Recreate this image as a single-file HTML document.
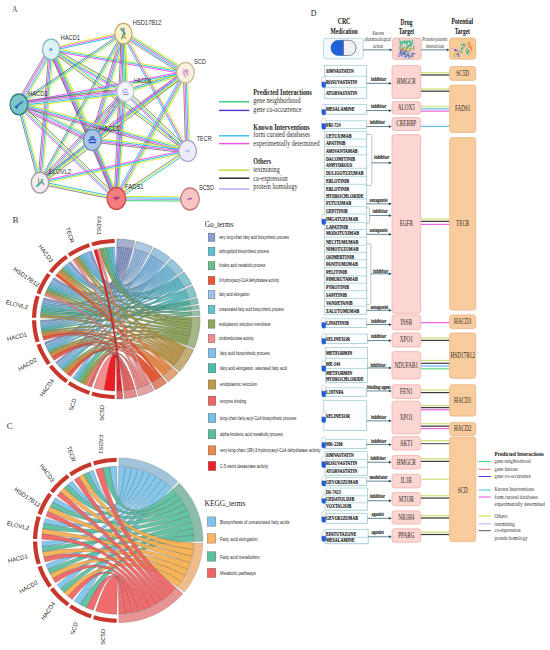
<!DOCTYPE html>
<html><head><meta charset="utf-8"><style>
html,body{margin:0;padding:0;background:#fff;width:550px;height:650px;overflow:hidden;}
svg{display:block;}
</style></head><body>
<svg width="550" height="650" viewBox="0 0 550 650">
<defs><filter id="bl" x="-20%" y="-20%" width="140%" height="140%"><feGaussianBlur stdDeviation="0.45"/></filter></defs>
<rect width="550" height="650" fill="#fff"/>
<text x="12" y="12.4" font-family='"Liberation Serif", serif' font-size="7.6" fill="#555">A</text>
<g stroke-linecap="butt" fill="none">
<line x1="50.90" y1="48.13" x2="123.10" y2="32.23" stroke="#d2ea2a" stroke-width="0.95"/>
<line x1="51.20" y1="49.50" x2="123.40" y2="33.60" stroke="#f04cf0" stroke-width="0.95"/>
<line x1="51.50" y1="50.87" x2="123.70" y2="34.97" stroke="#22c2f0" stroke-width="0.95"/>
<line x1="51.44" y1="48.12" x2="185.74" y2="71.32" stroke="#d2ea2a" stroke-width="0.95"/>
<line x1="51.20" y1="49.50" x2="185.50" y2="72.70" stroke="#22c2f0" stroke-width="0.95"/>
<line x1="50.96" y1="50.88" x2="185.26" y2="74.08" stroke="#f04cf0" stroke-width="0.95"/>
<line x1="52.23" y1="47.67" x2="126.53" y2="89.67" stroke="#4e4e4e" stroke-width="0.65"/>
<line x1="51.54" y1="48.89" x2="125.84" y2="90.89" stroke="#d2ea2a" stroke-width="0.95"/>
<line x1="50.86" y1="50.11" x2="125.16" y2="92.11" stroke="#22c2f0" stroke-width="0.95"/>
<line x1="50.17" y1="51.33" x2="124.47" y2="93.33" stroke="#f04cf0" stroke-width="0.95"/>
<line x1="53.61" y1="50.92" x2="21.31" y2="105.82" stroke="#d2ea2a" stroke-width="0.95"/>
<line x1="52.41" y1="50.21" x2="20.11" y2="105.11" stroke="#22c2f0" stroke-width="0.95"/>
<line x1="51.20" y1="49.50" x2="18.90" y2="104.40" stroke="#a9a6f0" stroke-width="0.95"/>
<line x1="49.99" y1="48.79" x2="17.69" y2="103.69" stroke="#f04cf0" stroke-width="0.95"/>
<line x1="48.79" y1="48.08" x2="16.49" y2="102.98" stroke="#4e4e4e" stroke-width="0.65"/>
<line x1="53.75" y1="48.34" x2="94.95" y2="138.84" stroke="#d2ea2a" stroke-width="0.95"/>
<line x1="52.47" y1="48.92" x2="93.67" y2="139.42" stroke="#22c2f0" stroke-width="0.95"/>
<line x1="51.20" y1="49.50" x2="92.40" y2="140.00" stroke="#a9a6f0" stroke-width="0.95"/>
<line x1="49.93" y1="50.08" x2="91.13" y2="140.58" stroke="#f04cf0" stroke-width="0.95"/>
<line x1="48.65" y1="50.66" x2="89.85" y2="141.16" stroke="#4e4e4e" stroke-width="0.65"/>
<line x1="52.04" y1="48.38" x2="188.44" y2="149.88" stroke="#22c2f0" stroke-width="0.95"/>
<line x1="51.20" y1="49.50" x2="187.60" y2="151.00" stroke="#d2ea2a" stroke-width="0.95"/>
<line x1="50.36" y1="50.62" x2="186.76" y2="152.12" stroke="#4e4e4e" stroke-width="0.65"/>
<line x1="53.29" y1="49.68" x2="42.09" y2="182.88" stroke="#d2ea2a" stroke-width="0.95"/>
<line x1="51.90" y1="49.56" x2="40.70" y2="182.76" stroke="#22c2f0" stroke-width="0.95"/>
<line x1="50.50" y1="49.44" x2="39.30" y2="182.64" stroke="#f04cf0" stroke-width="0.95"/>
<line x1="49.11" y1="49.32" x2="37.91" y2="182.52" stroke="#4e4e4e" stroke-width="0.65"/>
<line x1="53.12" y1="48.66" x2="118.32" y2="197.66" stroke="#d2ea2a" stroke-width="0.95"/>
<line x1="51.84" y1="49.22" x2="117.04" y2="198.22" stroke="#22c2f0" stroke-width="0.95"/>
<line x1="50.56" y1="49.78" x2="115.76" y2="198.78" stroke="#f04cf0" stroke-width="0.95"/>
<line x1="49.28" y1="50.34" x2="114.48" y2="199.34" stroke="#4e4e4e" stroke-width="0.65"/>
<line x1="124.89" y1="31.23" x2="186.99" y2="70.33" stroke="#d2ea2a" stroke-width="0.95"/>
<line x1="124.15" y1="32.42" x2="186.25" y2="71.52" stroke="#35cf6a" stroke-width="0.95"/>
<line x1="123.40" y1="33.60" x2="185.50" y2="72.70" stroke="#f04cf0" stroke-width="0.95"/>
<line x1="122.65" y1="34.78" x2="184.75" y2="73.88" stroke="#22c2f0" stroke-width="0.95"/>
<line x1="121.91" y1="35.97" x2="184.01" y2="75.07" stroke="#4e4e4e" stroke-width="0.65"/>
<line x1="125.50" y1="33.52" x2="127.60" y2="91.42" stroke="#d2ea2a" stroke-width="0.95"/>
<line x1="124.10" y1="33.57" x2="126.20" y2="91.47" stroke="#35cf6a" stroke-width="0.95"/>
<line x1="122.70" y1="33.63" x2="124.80" y2="91.53" stroke="#22c2f0" stroke-width="0.95"/>
<line x1="121.30" y1="33.68" x2="123.40" y2="91.58" stroke="#f04cf0" stroke-width="0.95"/>
<line x1="124.19" y1="34.76" x2="19.69" y2="105.56" stroke="#d2ea2a" stroke-width="0.95"/>
<line x1="123.40" y1="33.60" x2="18.90" y2="104.40" stroke="#22c2f0" stroke-width="0.95"/>
<line x1="122.61" y1="32.44" x2="18.11" y2="103.24" stroke="#4e4e4e" stroke-width="0.65"/>
<line x1="125.42" y1="34.19" x2="94.42" y2="140.59" stroke="#d2ea2a" stroke-width="0.95"/>
<line x1="124.07" y1="33.80" x2="93.07" y2="140.20" stroke="#22c2f0" stroke-width="0.95"/>
<line x1="122.73" y1="33.40" x2="91.73" y2="139.80" stroke="#f04cf0" stroke-width="0.95"/>
<line x1="121.38" y1="33.01" x2="90.38" y2="139.41" stroke="#4e4e4e" stroke-width="0.65"/>
<line x1="124.63" y1="32.93" x2="188.83" y2="150.33" stroke="#d2ea2a" stroke-width="0.95"/>
<line x1="123.40" y1="33.60" x2="187.60" y2="151.00" stroke="#f04cf0" stroke-width="0.95"/>
<line x1="122.17" y1="34.27" x2="186.37" y2="151.67" stroke="#22c2f0" stroke-width="0.95"/>
<line x1="124.62" y1="34.28" x2="41.22" y2="183.38" stroke="#d2ea2a" stroke-width="0.95"/>
<line x1="123.40" y1="33.60" x2="40.00" y2="182.70" stroke="#22c2f0" stroke-width="0.95"/>
<line x1="122.18" y1="32.92" x2="38.78" y2="182.02" stroke="#4e4e4e" stroke-width="0.65"/>
<line x1="125.50" y1="33.69" x2="118.50" y2="198.59" stroke="#d2ea2a" stroke-width="0.95"/>
<line x1="124.10" y1="33.63" x2="117.10" y2="198.53" stroke="#22c2f0" stroke-width="0.95"/>
<line x1="122.70" y1="33.57" x2="115.70" y2="198.47" stroke="#f04cf0" stroke-width="0.95"/>
<line x1="121.30" y1="33.51" x2="114.30" y2="198.41" stroke="#4e4e4e" stroke-width="0.65"/>
<line x1="185.92" y1="74.04" x2="125.92" y2="92.84" stroke="#d2ea2a" stroke-width="0.95"/>
<line x1="185.50" y1="72.70" x2="125.50" y2="91.50" stroke="#22c2f0" stroke-width="0.95"/>
<line x1="185.08" y1="71.36" x2="125.08" y2="90.16" stroke="#4e4e4e" stroke-width="0.65"/>
<line x1="185.76" y1="74.08" x2="19.16" y2="105.78" stroke="#d2ea2a" stroke-width="0.95"/>
<line x1="185.50" y1="72.70" x2="18.90" y2="104.40" stroke="#22c2f0" stroke-width="0.95"/>
<line x1="185.24" y1="71.32" x2="18.64" y2="103.02" stroke="#f04cf0" stroke-width="0.95"/>
<line x1="186.73" y1="74.40" x2="93.63" y2="141.70" stroke="#d2ea2a" stroke-width="0.95"/>
<line x1="185.91" y1="73.27" x2="92.81" y2="140.57" stroke="#22c2f0" stroke-width="0.95"/>
<line x1="185.09" y1="72.13" x2="91.99" y2="139.43" stroke="#f04cf0" stroke-width="0.95"/>
<line x1="184.27" y1="71.00" x2="91.17" y2="138.30" stroke="#4e4e4e" stroke-width="0.65"/>
<line x1="187.60" y1="72.64" x2="189.70" y2="150.94" stroke="#d2ea2a" stroke-width="0.95"/>
<line x1="186.20" y1="72.68" x2="188.30" y2="150.98" stroke="#22c2f0" stroke-width="0.95"/>
<line x1="184.80" y1="72.72" x2="186.90" y2="151.02" stroke="#f04cf0" stroke-width="0.95"/>
<line x1="183.40" y1="72.76" x2="185.50" y2="151.06" stroke="#4e4e4e" stroke-width="0.65"/>
<line x1="186.77" y1="74.38" x2="41.27" y2="184.38" stroke="#4e4e4e" stroke-width="0.65"/>
<line x1="185.92" y1="73.26" x2="40.42" y2="183.26" stroke="#d2ea2a" stroke-width="0.95"/>
<line x1="185.08" y1="72.14" x2="39.58" y2="182.14" stroke="#22c2f0" stroke-width="0.95"/>
<line x1="184.23" y1="71.02" x2="38.73" y2="181.02" stroke="#f04cf0" stroke-width="0.95"/>
<line x1="187.34" y1="73.71" x2="118.24" y2="199.51" stroke="#d2ea2a" stroke-width="0.95"/>
<line x1="186.11" y1="73.04" x2="117.01" y2="198.84" stroke="#35cf6a" stroke-width="0.95"/>
<line x1="184.89" y1="72.36" x2="115.79" y2="198.16" stroke="#f04cf0" stroke-width="0.95"/>
<line x1="183.66" y1="71.69" x2="114.56" y2="197.49" stroke="#22c2f0" stroke-width="0.95"/>
<line x1="125.84" y1="94.28" x2="19.24" y2="107.18" stroke="#d2ea2a" stroke-width="0.95"/>
<line x1="125.67" y1="92.89" x2="19.07" y2="105.79" stroke="#22c2f0" stroke-width="0.95"/>
<line x1="125.50" y1="91.50" x2="18.90" y2="104.40" stroke="#a9a6f0" stroke-width="0.95"/>
<line x1="125.33" y1="90.11" x2="18.73" y2="103.01" stroke="#f04cf0" stroke-width="0.95"/>
<line x1="125.16" y1="88.72" x2="18.56" y2="101.62" stroke="#4e4e4e" stroke-width="0.65"/>
<line x1="127.81" y1="93.08" x2="94.71" y2="141.58" stroke="#d2ea2a" stroke-width="0.95"/>
<line x1="126.66" y1="92.29" x2="93.56" y2="140.79" stroke="#22c2f0" stroke-width="0.95"/>
<line x1="125.50" y1="91.50" x2="92.40" y2="140.00" stroke="#5a3fd6" stroke-width="0.95"/>
<line x1="124.34" y1="90.71" x2="91.24" y2="139.21" stroke="#f04cf0" stroke-width="0.95"/>
<line x1="123.19" y1="89.92" x2="90.09" y2="138.42" stroke="#4e4e4e" stroke-width="0.65"/>
<line x1="126.95" y1="89.98" x2="189.05" y2="149.48" stroke="#4e4e4e" stroke-width="0.65"/>
<line x1="125.98" y1="90.99" x2="188.08" y2="150.49" stroke="#d2ea2a" stroke-width="0.95"/>
<line x1="125.02" y1="92.01" x2="187.12" y2="151.51" stroke="#22c2f0" stroke-width="0.95"/>
<line x1="124.05" y1="93.02" x2="186.15" y2="152.52" stroke="#f04cf0" stroke-width="0.95"/>
<line x1="127.03" y1="92.94" x2="41.53" y2="184.14" stroke="#d2ea2a" stroke-width="0.95"/>
<line x1="126.01" y1="91.98" x2="40.51" y2="183.18" stroke="#22c2f0" stroke-width="0.95"/>
<line x1="124.99" y1="91.02" x2="39.49" y2="182.22" stroke="#f04cf0" stroke-width="0.95"/>
<line x1="123.97" y1="90.06" x2="38.47" y2="181.26" stroke="#4e4e4e" stroke-width="0.65"/>
<line x1="126.89" y1="91.62" x2="117.79" y2="198.62" stroke="#d2ea2a" stroke-width="0.95"/>
<line x1="125.50" y1="91.50" x2="116.40" y2="198.50" stroke="#22c2f0" stroke-width="0.95"/>
<line x1="124.11" y1="91.38" x2="115.01" y2="198.38" stroke="#f04cf0" stroke-width="0.95"/>
<line x1="20.12" y1="101.88" x2="93.62" y2="137.48" stroke="#d2ea2a" stroke-width="0.95"/>
<line x1="19.51" y1="103.14" x2="93.01" y2="138.74" stroke="#22c2f0" stroke-width="0.95"/>
<line x1="18.90" y1="104.40" x2="92.40" y2="140.00" stroke="#a9a6f0" stroke-width="0.95"/>
<line x1="18.29" y1="105.66" x2="91.79" y2="141.26" stroke="#f04cf0" stroke-width="0.95"/>
<line x1="17.68" y1="106.92" x2="91.18" y2="142.52" stroke="#4e4e4e" stroke-width="0.65"/>
<line x1="19.46" y1="102.38" x2="188.16" y2="148.98" stroke="#d2ea2a" stroke-width="0.95"/>
<line x1="19.09" y1="103.73" x2="187.79" y2="150.33" stroke="#22c2f0" stroke-width="0.95"/>
<line x1="18.71" y1="105.07" x2="187.41" y2="151.67" stroke="#f04cf0" stroke-width="0.95"/>
<line x1="18.34" y1="106.42" x2="187.04" y2="153.02" stroke="#4e4e4e" stroke-width="0.65"/>
<line x1="20.25" y1="104.04" x2="41.35" y2="182.34" stroke="#d2ea2a" stroke-width="0.95"/>
<line x1="18.90" y1="104.40" x2="40.00" y2="182.70" stroke="#22c2f0" stroke-width="0.95"/>
<line x1="17.55" y1="104.76" x2="38.65" y2="183.06" stroke="#4e4e4e" stroke-width="0.65"/>
<line x1="20.36" y1="102.89" x2="117.86" y2="196.99" stroke="#4e4e4e" stroke-width="0.65"/>
<line x1="19.39" y1="103.90" x2="116.89" y2="198.00" stroke="#d2ea2a" stroke-width="0.95"/>
<line x1="18.41" y1="104.90" x2="115.91" y2="199.00" stroke="#22c2f0" stroke-width="0.95"/>
<line x1="17.44" y1="105.91" x2="114.94" y2="200.01" stroke="#f04cf0" stroke-width="0.95"/>
<line x1="92.64" y1="137.91" x2="187.84" y2="148.91" stroke="#d2ea2a" stroke-width="0.95"/>
<line x1="92.48" y1="139.30" x2="187.68" y2="150.30" stroke="#22c2f0" stroke-width="0.95"/>
<line x1="92.32" y1="140.70" x2="187.52" y2="151.70" stroke="#f04cf0" stroke-width="0.95"/>
<line x1="92.16" y1="142.09" x2="187.36" y2="153.09" stroke="#4e4e4e" stroke-width="0.65"/>
<line x1="93.28" y1="141.09" x2="40.88" y2="183.79" stroke="#d2ea2a" stroke-width="0.95"/>
<line x1="92.40" y1="140.00" x2="40.00" y2="182.70" stroke="#22c2f0" stroke-width="0.95"/>
<line x1="91.52" y1="138.91" x2="39.12" y2="181.61" stroke="#4e4e4e" stroke-width="0.65"/>
<line x1="94.34" y1="139.20" x2="118.34" y2="197.70" stroke="#d2ea2a" stroke-width="0.95"/>
<line x1="93.05" y1="139.73" x2="117.05" y2="198.23" stroke="#22c2f0" stroke-width="0.95"/>
<line x1="91.75" y1="140.27" x2="115.75" y2="198.77" stroke="#f04cf0" stroke-width="0.95"/>
<line x1="90.46" y1="140.80" x2="114.46" y2="199.30" stroke="#4e4e4e" stroke-width="0.65"/>
<line x1="187.89" y1="152.37" x2="40.29" y2="184.07" stroke="#d2ea2a" stroke-width="0.95"/>
<line x1="187.60" y1="151.00" x2="40.00" y2="182.70" stroke="#22c2f0" stroke-width="0.95"/>
<line x1="187.31" y1="149.63" x2="39.71" y2="181.33" stroke="#f04cf0" stroke-width="0.95"/>
<line x1="188.38" y1="152.16" x2="117.18" y2="199.66" stroke="#22c2f0" stroke-width="0.95"/>
<line x1="187.60" y1="151.00" x2="116.40" y2="198.50" stroke="#d2ea2a" stroke-width="0.95"/>
<line x1="186.82" y1="149.84" x2="115.62" y2="197.34" stroke="#4e4e4e" stroke-width="0.65"/>
<line x1="40.28" y1="181.33" x2="116.68" y2="197.13" stroke="#22c2f0" stroke-width="0.95"/>
<line x1="40.00" y1="182.70" x2="116.40" y2="198.50" stroke="#d2ea2a" stroke-width="0.95"/>
<line x1="39.72" y1="184.07" x2="116.12" y2="199.87" stroke="#4e4e4e" stroke-width="0.65"/>
<line x1="116.41" y1="196.40" x2="190.01" y2="196.90" stroke="#d2ea2a" stroke-width="0.95"/>
<line x1="116.40" y1="197.80" x2="190.00" y2="198.30" stroke="#22c2f0" stroke-width="0.95"/>
<line x1="116.40" y1="199.20" x2="190.00" y2="199.70" stroke="#a9a6f0" stroke-width="0.95"/>
<line x1="116.39" y1="200.60" x2="189.99" y2="201.10" stroke="#35cf6a" stroke-width="0.95"/>
</g>
<g transform="translate(51.2,49.5)"><ellipse rx="8.74" ry="10.30" fill="#dcf3f5" stroke="#86b6bc" stroke-width="1.3"/><path d="M-1.5,-2 L2,0 L-1.5,2 Z" fill="#6f8fd0"/></g>
<g transform="translate(123.4,33.6)"><ellipse rx="8.64" ry="10.19" fill="#fbf2c8" stroke="#c8a870" stroke-width="1.3"/><path d="M-3,-5 C1,-4 -2,-1 2,0 C-2,1 1,3 -2,5" stroke="#3aa07a" stroke-width="1.6" fill="none"/><path d="M-1,1 C2,2 0,4 3,5" stroke="#e08a3a" stroke-width="1.4" fill="none"/><path d="M0,-6 C2,-4 -1,-3 1,-1" stroke="#4a70c8" stroke-width="1.1" fill="none"/></g>
<g transform="translate(185.5,72.7)"><ellipse rx="8.74" ry="10.30" fill="#f8f1de" stroke="#cbb99a" stroke-width="1.3"/><path d="M-2.5,-3 L2.5,-2 M-3,-0.5 L3,-1.5 M-2,2 L1,4 M0.5,0 L3,2.5 M-2,-1 L-1,3 M1,-3.5 L2,1" stroke="#d494cc" stroke-width="1.3" fill="none"/></g>
<g transform="translate(125.5,91.5)"><ellipse rx="8.36" ry="9.86" fill="#f3f6fa" stroke="#c4c9d6" stroke-width="1.3"/><path d="M-3,0 C-1,-3 1,-3 2,-1 M-3,2 C-1,0 1,0 3,2 M-2,3 L3,3" stroke="#6f7fd8" stroke-width="0.9" fill="none"/></g>
<g transform="translate(18.9,104.4)"><ellipse rx="8.84" ry="10.42" fill="#7cc6ca" stroke="#2e8282" stroke-width="1.3"/><path d="M-4,3 L4,-3 M-3,4 L-1,2 M1,-1 L3,-2" stroke="#2f66b8" stroke-width="1.6" fill="none"/></g>
<g transform="translate(92.4,140.0)"><ellipse rx="8.93" ry="10.53" fill="#a9c6e6" stroke="#6a8fb6" stroke-width="1.3"/><path d="M-2,-2 C-1,-3.5 1,-3.5 2,-2 M-4,0.5 C-1,-1.5 1,-1.5 4,0.5 M-3.5,2.5 L3.5,2.5" stroke="#2848c0" stroke-width="1.4" fill="none"/></g>
<g transform="translate(187.6,151.0)"><ellipse rx="8.93" ry="10.53" fill="#edecf9" stroke="#aaa2c9" stroke-width="1.3"/><path d="M-2,0 C-1,-1 1,-1 2,0 C1,1 -1,1 -2,0" stroke="#a8a0d0" stroke-width="0.8" fill="none"/></g>
<g transform="translate(40.0,182.7)"><ellipse rx="8.74" ry="10.30" fill="#f1eaee" stroke="#a89ea2" stroke-width="1.3"/><path d="M-3.5,4 L-1,1.5 L1,-0.5 L2.5,-3.5" stroke="#2cb88a" stroke-width="1.7" fill="none"/><path d="M-1.5,-4.5 L-1.5,0.5" stroke="#e07a50" stroke-width="1.1" fill="none"/><path d="M2,-1 L4,2" stroke="#5a60d0" stroke-width="1.1" fill="none"/></g>
<g transform="translate(116.4,198.5)"><ellipse rx="9.31" ry="10.98" fill="#f27e7e" stroke="#cf4a4a" stroke-width="1.3"/><path d="M-3,0 C-1,-2 1,1 3,-1 M-1,2 L1,-2" stroke="#a02a8a" stroke-width="1.3" fill="none"/></g>
<g transform="translate(190.0,199.0)"><ellipse rx="9.31" ry="10.98" fill="#f8c5c5" stroke="#c77a7a" stroke-width="1.3"/><path d="M-2,1 C-1,-1 1,-1 2,0" stroke="#9a40b0" stroke-width="1.3" fill="none"/></g>
<text transform="translate(60.50,39.80) scale(0.803,1)" font-family='"Liberation Sans", sans-serif' font-size="7.2" font-weight="normal" fill="#2a2a2a" text-anchor="start">HACD1</text>
<text transform="translate(132.70,24.60) scale(0.800,1)" font-family='"Liberation Sans", sans-serif' font-size="7.2" font-weight="normal" fill="#2a2a2a" text-anchor="start">HSD17B12</text>
<text transform="translate(194.00,64.10) scale(0.789,1)" font-family='"Liberation Sans", sans-serif' font-size="7.2" font-weight="normal" fill="#2a2a2a" text-anchor="start">SCD</text>
<text transform="translate(134.00,82.60) scale(0.697,1)" font-family='"Liberation Sans", sans-serif' font-size="7.2" font-weight="normal" fill="#2a2a2a" text-anchor="start">HACD4</text>
<text transform="translate(28.00,95.60) scale(0.803,1)" font-family='"Liberation Sans", sans-serif' font-size="7.2" font-weight="normal" fill="#2a2a2a" text-anchor="start">HACD3</text>
<text transform="translate(99.00,130.60) scale(0.901,1)" font-family='"Liberation Sans", sans-serif' font-size="7.2" font-weight="normal" fill="#2a2a2a" text-anchor="start">HACD2</text>
<text transform="translate(196.70,141.30) scale(0.770,1)" font-family='"Liberation Sans", sans-serif' font-size="7.2" font-weight="normal" fill="#2a2a2a" text-anchor="start">TECR</text>
<text transform="translate(49.00,173.60) scale(0.808,1)" font-family='"Liberation Sans", sans-serif' font-size="7.2" font-weight="normal" fill="#2a2a2a" text-anchor="start">ELOVL2</text>
<text transform="translate(125.00,188.60) scale(0.815,1)" font-family='"Liberation Sans", sans-serif' font-size="7.2" font-weight="normal" fill="#2a2a2a" text-anchor="start">FADS1</text>
<text transform="translate(199.00,189.60) scale(0.781,1)" font-family='"Liberation Sans", sans-serif' font-size="7.2" font-weight="normal" fill="#2a2a2a" text-anchor="start">SC5D</text>
<line x1="219" y1="101.8" x2="249.4" y2="101.8" stroke="#3ad07a" stroke-width="1.45"/>
<line x1="219" y1="110.4" x2="249.4" y2="110.4" stroke="#5a3ad8" stroke-width="1.45"/>
<line x1="219" y1="135.8" x2="249.4" y2="135.8" stroke="#3cc4e4" stroke-width="1.45"/>
<line x1="219" y1="143.6" x2="249.4" y2="143.6" stroke="#f050e8" stroke-width="1.45"/>
<line x1="219" y1="170.2" x2="249.4" y2="170.2" stroke="#c8dc30" stroke-width="1.45"/>
<line x1="219" y1="178.2" x2="249.4" y2="178.2" stroke="#222" stroke-width="1.45"/>
<line x1="219" y1="189.0" x2="249.4" y2="189.0" stroke="#b0aaf4" stroke-width="1.45"/>
<text transform="translate(253.30,95.00) scale(0.846,1)" font-family='"Liberation Serif", serif' font-size="7.3" font-weight="bold" fill="#1e1e1e" text-anchor="start">Predicted Interactions</text>
<text transform="translate(253.30,103.00) scale(0.842,1)" font-family='"Liberation Serif", serif' font-size="7.3" font-weight="normal" fill="#333" text-anchor="start">gene neighborhood</text>
<text transform="translate(253.30,111.70) scale(0.847,1)" font-family='"Liberation Serif", serif' font-size="7.3" font-weight="normal" fill="#333" text-anchor="start">gene co-occurrence</text>
<text transform="translate(253.30,129.50) scale(0.852,1)" font-family='"Liberation Serif", serif' font-size="7.3" font-weight="bold" fill="#1e1e1e" text-anchor="start">Known Interventions</text>
<text transform="translate(253.30,137.10) scale(0.843,1)" font-family='"Liberation Serif", serif' font-size="7.3" font-weight="normal" fill="#333" text-anchor="start">form curated databases</text>
<text transform="translate(253.30,145.50) scale(0.844,1)" font-family='"Liberation Serif", serif' font-size="7.3" font-weight="normal" fill="#333" text-anchor="start">experimentally determined</text>
<text transform="translate(253.30,163.70) scale(0.824,1)" font-family='"Liberation Serif", serif' font-size="7.3" font-weight="bold" fill="#1e1e1e" text-anchor="start">Others</text>
<text transform="translate(253.30,172.20) scale(0.835,1)" font-family='"Liberation Serif", serif' font-size="7.3" font-weight="normal" fill="#333" text-anchor="start">textmining</text>
<text transform="translate(253.30,180.60) scale(0.849,1)" font-family='"Liberation Serif", serif' font-size="7.3" font-weight="normal" fill="#333" text-anchor="start">co-expression</text>
<text transform="translate(253.30,189.20) scale(0.852,1)" font-family='"Liberation Serif", serif' font-size="7.3" font-weight="normal" fill="#333" text-anchor="start">protein homology</text>
<text x="12.6" y="222.8" font-family='"Liberation Serif", serif' font-size="8.8" fill="#333">B</text>
<path d="M89.00,251.75 L89.83,251.45 L90.67,251.16 L91.51,250.88 Q116.00,319.00 116.79,247.00 L116.79,247.00 L117.95,247.02 L119.11,247.06 Q116.00,319.00 89.00,251.75 Z" fill="#8d9ed3" fill-opacity="1.0" stroke="#3a3a3a" stroke-width="0.28" stroke-opacity="0.85"/>
<path d="M68.50,262.99 L69.20,262.46 L69.90,261.94 L70.61,261.42 Q116.00,319.00 119.11,247.06 L119.11,247.06 L120.27,247.11 L121.42,247.19 Q116.00,319.00 68.50,262.99 Z" fill="#8d9ed3" fill-opacity="1.0" stroke="#3a3a3a" stroke-width="0.28" stroke-opacity="0.85"/>
<path d="M52.81,279.47 L53.47,278.53 L54.15,277.60 Q116.00,319.00 121.42,247.19 L121.42,247.19 L122.58,247.27 L123.73,247.38 Q116.00,319.00 52.81,279.47 Z" fill="#8d9ed3" fill-opacity="1.0" stroke="#3a3a3a" stroke-width="0.28" stroke-opacity="0.85"/>
<path d="M43.19,299.60 L43.46,298.72 L43.74,297.83 Q116.00,319.00 123.73,247.38 L123.73,247.38 L124.89,247.50 L126.04,247.64 Q116.00,319.00 43.19,299.60 Z" fill="#8d9ed3" fill-opacity="1.0" stroke="#3a3a3a" stroke-width="0.28" stroke-opacity="0.85"/>
<path d="M40.46,321.98 L40.43,321.06 L40.41,320.13 Q116.00,319.00 126.04,247.64 L126.04,247.64 L127.18,247.79 L128.33,247.96 Q116.00,319.00 40.46,321.98 Z" fill="#8d9ed3" fill-opacity="1.0" stroke="#3a3a3a" stroke-width="0.28" stroke-opacity="0.85"/>
<path d="M45.20,344.24 L44.83,343.28 L44.48,342.32 Q116.00,319.00 128.33,247.96 L128.33,247.96 L129.47,248.15 L130.61,248.36 Q116.00,319.00 45.20,344.24 Z" fill="#8d9ed3" fill-opacity="1.0" stroke="#3a3a3a" stroke-width="0.28" stroke-opacity="0.85"/>
<path d="M56.85,363.84 L56.19,363.04 L55.54,362.23 Q116.00,319.00 130.61,248.36 L130.61,248.36 L131.75,248.58 L132.88,248.82 Q116.00,319.00 56.85,363.84 Z" fill="#8d9ed3" fill-opacity="1.0" stroke="#3a3a3a" stroke-width="0.28" stroke-opacity="0.85"/>
<path d="M86.52,252.70 L87.34,252.37 L88.17,252.06 L89.00,251.75 Q116.00,319.00 134.42,249.17 L134.42,249.17 L135.48,249.43 L136.53,249.71 Q116.00,319.00 86.52,252.70 Z" fill="#9cc4f0" fill-opacity="1.0" stroke="#3a3a3a" stroke-width="0.28" stroke-opacity="0.85"/>
<path d="M66.45,264.62 L67.13,264.07 L67.81,263.52 L68.50,262.99 Q116.00,319.00 136.53,249.71 L136.53,249.71 L137.58,250.00 L138.63,250.30 Q116.00,319.00 66.45,264.62 Z" fill="#9cc4f0" fill-opacity="1.0" stroke="#3a3a3a" stroke-width="0.28" stroke-opacity="0.85"/>
<path d="M51.54,281.38 L52.17,280.42 L52.81,279.47 Q116.00,319.00 138.63,250.30 L138.63,250.30 L139.67,250.62 L140.70,250.95 Q116.00,319.00 51.54,281.38 Z" fill="#9cc4f0" fill-opacity="1.0" stroke="#3a3a3a" stroke-width="0.28" stroke-opacity="0.85"/>
<path d="M42.70,301.39 L42.94,300.50 L43.19,299.60 Q116.00,319.00 140.70,250.95 L140.70,250.95 L141.73,251.30 L142.76,251.66 Q116.00,319.00 42.70,301.39 Z" fill="#9cc4f0" fill-opacity="1.0" stroke="#3a3a3a" stroke-width="0.28" stroke-opacity="0.85"/>
<path d="M40.57,323.83 L40.51,322.91 L40.46,321.98 Q116.00,319.00 142.76,251.66 L142.76,251.66 L143.78,252.04 L144.79,252.43 Q116.00,319.00 40.57,323.83 Z" fill="#9cc4f0" fill-opacity="1.0" stroke="#3a3a3a" stroke-width="0.28" stroke-opacity="0.85"/>
<path d="M45.97,346.13 L45.58,345.19 L45.20,344.24 Q116.00,319.00 144.79,252.43 L144.79,252.43 L145.80,252.83 L146.80,253.25 Q116.00,319.00 45.97,346.13 Z" fill="#9cc4f0" fill-opacity="1.0" stroke="#3a3a3a" stroke-width="0.28" stroke-opacity="0.85"/>
<path d="M58.21,365.42 L57.52,364.63 L56.85,363.84 Q116.00,319.00 146.80,253.25 L146.80,253.25 L147.80,253.68 L148.78,254.12 Q116.00,319.00 58.21,365.42 Z" fill="#9cc4f0" fill-opacity="1.0" stroke="#3a3a3a" stroke-width="0.28" stroke-opacity="0.85"/>
<path d="M111.76,247.11 L112.78,247.07 L113.79,247.03 L114.81,247.01 Q116.00,319.00 150.20,254.79 L150.20,254.79 L151.16,255.26 L152.12,255.75 Q116.00,319.00 111.76,247.11 Z" fill="#80c0ee" fill-opacity="1.0" stroke="#3a3a3a" stroke-width="0.28" stroke-opacity="0.85"/>
<path d="M84.08,253.73 L84.89,253.38 L85.70,253.03 L86.52,252.70 Q116.00,319.00 152.12,255.75 L152.12,255.75 L153.06,256.25 L154.00,256.76 Q116.00,319.00 84.08,253.73 Z" fill="#80c0ee" fill-opacity="1.0" stroke="#3a3a3a" stroke-width="0.28" stroke-opacity="0.85"/>
<path d="M50.33,283.33 L50.93,282.35 L51.54,281.38 Q116.00,319.00 154.00,256.76 L154.00,256.76 L154.93,257.28 L155.85,257.82 Q116.00,319.00 50.33,283.33 Z" fill="#80c0ee" fill-opacity="1.0" stroke="#3a3a3a" stroke-width="0.28" stroke-opacity="0.85"/>
<path d="M42.24,303.19 L42.46,302.29 L42.70,301.39 Q116.00,319.00 155.85,257.82 L155.85,257.82 L156.77,258.36 L157.67,258.93 Q116.00,319.00 42.24,303.19 Z" fill="#80c0ee" fill-opacity="1.0" stroke="#3a3a3a" stroke-width="0.28" stroke-opacity="0.85"/>
<path d="M40.73,325.67 L40.64,324.75 L40.57,323.83 Q116.00,319.00 157.67,258.93 L157.67,258.93 L158.57,259.50 L159.46,260.08 Q116.00,319.00 40.73,325.67 Z" fill="#80c0ee" fill-opacity="1.0" stroke="#3a3a3a" stroke-width="0.28" stroke-opacity="0.85"/>
<path d="M46.81,348.01 L46.38,347.07 L45.97,346.13 Q116.00,319.00 159.46,260.08 L159.46,260.08 L160.34,260.68 L161.21,261.29 Q116.00,319.00 46.81,348.01 Z" fill="#80c0ee" fill-opacity="1.0" stroke="#3a3a3a" stroke-width="0.28" stroke-opacity="0.85"/>
<path d="M59.61,366.95 L58.90,366.19 L58.21,365.42 Q116.00,319.00 161.21,261.29 L161.21,261.29 L162.07,261.91 L162.92,262.54 Q116.00,319.00 59.61,366.95 Z" fill="#80c0ee" fill-opacity="1.0" stroke="#3a3a3a" stroke-width="0.28" stroke-opacity="0.85"/>
<path d="M75.06,379.53 L74.21,379.00 L73.37,378.46 L72.53,377.91 Q116.00,319.00 162.92,262.54 L162.92,262.54 L163.76,263.19 L164.59,263.84 Q116.00,319.00 75.06,379.53 Z" fill="#80c0ee" fill-opacity="1.0" stroke="#3a3a3a" stroke-width="0.28" stroke-opacity="0.85"/>
<path d="M81.68,254.85 L82.47,254.47 L83.27,254.10 L84.08,253.73 Q116.00,319.00 165.80,264.83 L165.80,264.83 L166.61,265.52 L167.42,266.22 Q116.00,319.00 81.68,254.85 Z" fill="#74c2e8" fill-opacity="1.0" stroke="#3a3a3a" stroke-width="0.28" stroke-opacity="0.85"/>
<path d="M64.47,266.32 L65.12,265.75 L65.78,265.18 L66.45,264.62 Q116.00,319.00 167.42,266.22 L167.42,266.22 L168.22,266.93 L169.00,267.66 Q116.00,319.00 64.47,266.32 Z" fill="#74c2e8" fill-opacity="1.0" stroke="#3a3a3a" stroke-width="0.28" stroke-opacity="0.85"/>
<path d="M49.19,285.31 L49.75,284.31 L50.33,283.33 Q116.00,319.00 169.00,267.66 L169.00,267.66 L169.78,268.39 L170.54,269.14 Q116.00,319.00 49.19,285.31 Z" fill="#74c2e8" fill-opacity="1.0" stroke="#3a3a3a" stroke-width="0.28" stroke-opacity="0.85"/>
<path d="M41.84,305.00 L42.04,304.10 L42.24,303.19 Q116.00,319.00 170.54,269.14 L170.54,269.14 L171.29,269.90 L172.03,270.66 Q116.00,319.00 41.84,305.00 Z" fill="#74c2e8" fill-opacity="1.0" stroke="#3a3a3a" stroke-width="0.28" stroke-opacity="0.85"/>
<path d="M40.93,327.51 L40.82,326.59 L40.73,325.67 Q116.00,319.00 172.03,270.66 L172.03,270.66 L172.76,271.44 L173.47,272.23 Q116.00,319.00 40.93,327.51 Z" fill="#74c2e8" fill-opacity="1.0" stroke="#3a3a3a" stroke-width="0.28" stroke-opacity="0.85"/>
<path d="M47.70,349.86 L47.25,348.94 L46.81,348.01 Q116.00,319.00 173.47,272.23 L173.47,272.23 L174.18,273.02 L174.87,273.83 Q116.00,319.00 47.70,349.86 Z" fill="#74c2e8" fill-opacity="1.0" stroke="#3a3a3a" stroke-width="0.28" stroke-opacity="0.85"/>
<path d="M61.05,368.45 L60.32,367.71 L59.61,366.95 Q116.00,319.00 174.87,273.83 L174.87,273.83 L175.55,274.64 L176.22,275.47 Q116.00,319.00 61.05,368.45 Z" fill="#74c2e8" fill-opacity="1.0" stroke="#3a3a3a" stroke-width="0.28" stroke-opacity="0.85"/>
<path d="M79.32,256.04 L80.10,255.64 L80.89,255.24 L81.68,254.85 Q116.00,319.00 177.16,276.68 L177.16,276.68 L177.82,277.56 L178.47,278.44 Q116.00,319.00 79.32,256.04 Z" fill="#5bc2d4" fill-opacity="1.0" stroke="#3a3a3a" stroke-width="0.28" stroke-opacity="0.85"/>
<path d="M62.54,268.09 L63.18,267.49 L63.82,266.90 L64.47,266.32 Q116.00,319.00 178.47,278.44 L178.47,278.44 L179.10,279.34 L179.71,280.24 Q116.00,319.00 62.54,268.09 Z" fill="#5bc2d4" fill-opacity="1.0" stroke="#3a3a3a" stroke-width="0.28" stroke-opacity="0.85"/>
<path d="M48.11,287.32 L48.64,286.31 L49.19,285.31 Q116.00,319.00 179.71,280.24 L179.71,280.24 L180.32,281.16 L180.90,282.08 Q116.00,319.00 48.11,287.32 Z" fill="#5bc2d4" fill-opacity="1.0" stroke="#3a3a3a" stroke-width="0.28" stroke-opacity="0.85"/>
<path d="M41.49,306.82 L41.66,305.91 L41.84,305.00 Q116.00,319.00 180.90,282.08 L180.90,282.08 L181.48,283.01 L182.04,283.95 Q116.00,319.00 41.49,306.82 Z" fill="#5bc2d4" fill-opacity="1.0" stroke="#3a3a3a" stroke-width="0.28" stroke-opacity="0.85"/>
<path d="M41.18,329.35 L41.05,328.43 L40.93,327.51 Q116.00,319.00 182.04,283.95 L182.04,283.95 L182.58,284.89 L183.11,285.85 Q116.00,319.00 41.18,329.35 Z" fill="#5bc2d4" fill-opacity="1.0" stroke="#3a3a3a" stroke-width="0.28" stroke-opacity="0.85"/>
<path d="M62.54,369.91 L61.79,369.19 L61.05,368.45 Q116.00,319.00 183.11,285.85 L183.11,285.85 L183.62,286.81 L184.12,287.78 Q116.00,319.00 62.54,369.91 Z" fill="#5bc2d4" fill-opacity="1.0" stroke="#3a3a3a" stroke-width="0.28" stroke-opacity="0.85"/>
<path d="M108.72,247.33 L109.73,247.25 L110.75,247.17 L111.76,247.11 Q116.00,319.00 184.79,289.14 L184.79,289.14 L185.16,289.92 L185.51,290.69 L185.86,291.48 Q116.00,319.00 108.72,247.33 Z" fill="#5cc4cc" fill-opacity="1.0" stroke="#3a3a3a" stroke-width="0.28" stroke-opacity="0.85"/>
<path d="M41.18,308.65 L41.33,307.74 L41.49,306.82 Q116.00,319.00 185.86,291.48 L185.86,291.48 L186.19,292.26 L186.52,293.05 L186.84,293.84 Q116.00,319.00 41.18,308.65 Z" fill="#5cc4cc" fill-opacity="1.0" stroke="#3a3a3a" stroke-width="0.28" stroke-opacity="0.85"/>
<path d="M48.64,351.69 L48.16,350.78 L47.70,349.86 Q116.00,319.00 186.84,293.84 L186.84,293.84 L187.14,294.64 L187.44,295.44 L187.72,296.24 Q116.00,319.00 48.64,351.69 Z" fill="#5cc4cc" fill-opacity="1.0" stroke="#3a3a3a" stroke-width="0.28" stroke-opacity="0.85"/>
<path d="M77.66,381.06 L76.79,380.56 L75.92,380.05 L75.06,379.53 Q116.00,319.00 187.72,296.24 L187.72,296.24 L188.00,297.05 L188.27,297.86 L188.52,298.67 Q116.00,319.00 77.66,381.06 Z" fill="#5cc4cc" fill-opacity="1.0" stroke="#3a3a3a" stroke-width="0.28" stroke-opacity="0.85"/>
<path d="M47.10,289.37 L47.60,288.34 L48.11,287.32 Q116.00,319.00 188.96,300.12 L188.96,300.12 L189.19,300.95 L189.41,301.78 Q116.00,319.00 47.10,289.37 Z" fill="#4cbfa8" fill-opacity="1.0" stroke="#3a3a3a" stroke-width="0.28" stroke-opacity="0.85"/>
<path d="M40.93,310.49 L41.05,309.57 L41.18,308.65 Q116.00,319.00 189.41,301.78 L189.41,301.78 L189.62,302.62 L189.82,303.46 Q116.00,319.00 40.93,310.49 Z" fill="#4cbfa8" fill-opacity="1.0" stroke="#3a3a3a" stroke-width="0.28" stroke-opacity="0.85"/>
<path d="M41.49,331.18 L41.33,330.26 L41.18,329.35 Q116.00,319.00 189.82,303.46 L189.82,303.46 L190.01,304.30 L190.19,305.14 Q116.00,319.00 41.49,331.18 Z" fill="#4cbfa8" fill-opacity="1.0" stroke="#3a3a3a" stroke-width="0.28" stroke-opacity="0.85"/>
<path d="M105.68,247.67 L106.69,247.55 L107.70,247.43 L108.72,247.33 Q116.00,319.00 190.47,306.62 L190.47,306.62 L190.63,307.49 L190.77,308.36 Q116.00,319.00 105.68,247.67 Z" fill="#58bea0" fill-opacity="1.0" stroke="#3a3a3a" stroke-width="0.28" stroke-opacity="0.85"/>
<path d="M40.73,312.33 L40.82,311.41 L40.93,310.49 Q116.00,319.00 190.77,308.36 L190.77,308.36 L190.90,309.23 L191.02,310.10 Q116.00,319.00 40.73,312.33 Z" fill="#58bea0" fill-opacity="1.0" stroke="#3a3a3a" stroke-width="0.28" stroke-opacity="0.85"/>
<path d="M102.67,248.13 L103.67,247.96 L104.68,247.81 L105.68,247.67 Q116.00,319.00 191.20,311.60 L191.20,311.60 L191.27,312.29 L191.33,312.98 Q116.00,319.00 102.67,248.13 Z" fill="#6bbf8c" fill-opacity="1.0" stroke="#3a3a3a" stroke-width="0.28" stroke-opacity="0.85"/>
<path d="M40.57,314.17 L40.64,313.25 L40.73,312.33 Q116.00,319.00 191.33,312.98 L191.33,312.98 L191.39,313.66 L191.44,314.35 Q116.00,319.00 40.57,314.17 Z" fill="#6bbf8c" fill-opacity="1.0" stroke="#3a3a3a" stroke-width="0.28" stroke-opacity="0.85"/>
<path d="M80.33,382.48 L79.43,382.02 L78.54,381.54 L77.66,381.06 Q116.00,319.00 191.44,314.35 L191.44,314.35 L191.49,315.04 L191.52,315.73 Q116.00,319.00 80.33,382.48 Z" fill="#6bbf8c" fill-opacity="1.0" stroke="#3a3a3a" stroke-width="0.28" stroke-opacity="0.85"/>
<path d="M99.67,248.70 L100.67,248.50 L101.67,248.31 L102.67,248.13 Q116.00,319.00 191.58,317.24 L191.58,317.24 L191.60,318.30 L191.60,319.36 L191.59,320.42 Q116.00,319.00 99.67,248.70 Z" fill="#8fa85a" fill-opacity="1.0" stroke="#3a3a3a" stroke-width="0.28" stroke-opacity="0.85"/>
<path d="M77.01,257.32 L77.77,256.88 L78.54,256.46 L79.32,256.04 Q116.00,319.00 191.59,320.42 L191.59,320.42 L191.55,321.48 L191.51,322.55 L191.45,323.60 Q116.00,319.00 77.01,257.32 Z" fill="#8fa85a" fill-opacity="1.0" stroke="#3a3a3a" stroke-width="0.28" stroke-opacity="0.85"/>
<path d="M60.69,269.92 L61.30,269.30 L61.92,268.69 L62.54,268.09 Q116.00,319.00 191.45,323.60 L191.45,323.60 L191.37,324.66 L191.27,325.72 L191.16,326.78 Q116.00,319.00 60.69,269.92 Z" fill="#8fa85a" fill-opacity="1.0" stroke="#3a3a3a" stroke-width="0.28" stroke-opacity="0.85"/>
<path d="M46.15,291.45 L46.62,290.41 L47.10,289.37 Q116.00,319.00 191.16,326.78 L191.16,326.78 L191.03,327.83 L190.88,328.88 L190.72,329.93 Q116.00,319.00 46.15,291.45 Z" fill="#8fa85a" fill-opacity="1.0" stroke="#3a3a3a" stroke-width="0.28" stroke-opacity="0.85"/>
<path d="M40.46,316.02 L40.51,315.09 L40.57,314.17 Q116.00,319.00 190.72,329.93 L190.72,329.93 L190.55,330.98 L190.35,332.02 L190.14,333.07 Q116.00,319.00 40.46,316.02 Z" fill="#8fa85a" fill-opacity="1.0" stroke="#3a3a3a" stroke-width="0.28" stroke-opacity="0.85"/>
<path d="M41.84,333.00 L41.66,332.09 L41.49,331.18 Q116.00,319.00 190.14,333.07 L190.14,333.07 L189.92,334.11 L189.68,335.14 L189.42,336.17 Q116.00,319.00 41.84,333.00 Z" fill="#8fa85a" fill-opacity="1.0" stroke="#3a3a3a" stroke-width="0.28" stroke-opacity="0.85"/>
<path d="M49.64,353.49 L49.13,352.59 L48.64,351.69 Q116.00,319.00 189.42,336.17 L189.42,336.17 L189.14,337.20 L188.85,338.23 L188.55,339.25 Q116.00,319.00 49.64,353.49 Z" fill="#8fa85a" fill-opacity="1.0" stroke="#3a3a3a" stroke-width="0.28" stroke-opacity="0.85"/>
<path d="M64.08,371.33 L63.30,370.63 L62.54,369.91 Q116.00,319.00 188.55,339.25 L188.55,339.25 L188.23,340.26 L187.89,341.28 L187.54,342.28 Q116.00,319.00 64.08,371.33 Z" fill="#8fa85a" fill-opacity="1.0" stroke="#3a3a3a" stroke-width="0.28" stroke-opacity="0.85"/>
<path d="M83.05,383.80 L82.13,383.37 L81.23,382.93 L80.33,382.48 Q116.00,319.00 187.54,342.28 L187.54,342.28 L187.17,343.28 L186.79,344.28 L186.39,345.27 Q116.00,319.00 83.05,383.80 Z" fill="#8fa85a" fill-opacity="1.0" stroke="#3a3a3a" stroke-width="0.28" stroke-opacity="0.85"/>
<path d="M74.74,258.67 L75.49,258.21 L76.25,257.76 L77.01,257.32 Q116.00,319.00 185.79,346.67 L185.79,346.67 L185.40,347.56 L184.99,348.44 L184.57,349.31 Q116.00,319.00 74.74,258.67 Z" fill="#c09a48" fill-opacity="1.0" stroke="#3a3a3a" stroke-width="0.28" stroke-opacity="0.85"/>
<path d="M58.90,271.81 L59.49,271.17 L60.08,270.54 L60.69,269.92 Q116.00,319.00 184.57,349.31 L184.57,349.31 L184.14,350.19 L183.70,351.05 L183.24,351.91 Q116.00,319.00 58.90,271.81 Z" fill="#c09a48" fill-opacity="1.0" stroke="#3a3a3a" stroke-width="0.28" stroke-opacity="0.85"/>
<path d="M45.28,293.55 L45.71,292.50 L46.15,291.45 Q116.00,319.00 183.24,351.91 L183.24,351.91 L182.77,352.76 L182.29,353.61 L181.80,354.45 Q116.00,319.00 45.28,293.55 Z" fill="#c09a48" fill-opacity="1.0" stroke="#3a3a3a" stroke-width="0.28" stroke-opacity="0.85"/>
<path d="M40.41,317.87 L40.43,316.94 L40.46,316.02 Q116.00,319.00 181.80,354.45 L181.80,354.45 L181.29,355.29 L180.78,356.12 L180.25,356.94 Q116.00,319.00 40.41,317.87 Z" fill="#c09a48" fill-opacity="1.0" stroke="#3a3a3a" stroke-width="0.28" stroke-opacity="0.85"/>
<path d="M42.24,334.81 L42.04,333.90 L41.84,333.00 Q116.00,319.00 180.25,356.94 L180.25,356.94 L179.71,357.76 L179.16,358.56 L178.60,359.37 Q116.00,319.00 42.24,334.81 Z" fill="#c09a48" fill-opacity="1.0" stroke="#3a3a3a" stroke-width="0.28" stroke-opacity="0.85"/>
<path d="M50.69,355.26 L50.16,354.38 L49.64,353.49 Q116.00,319.00 178.60,359.37 L178.60,359.37 L178.03,360.16 L177.44,360.95 L176.85,361.73 Q116.00,319.00 50.69,355.26 Z" fill="#c09a48" fill-opacity="1.0" stroke="#3a3a3a" stroke-width="0.28" stroke-opacity="0.85"/>
<path d="M65.65,372.71 L64.86,372.02 L64.08,371.33 Q116.00,319.00 176.85,361.73 L176.85,361.73 L176.24,362.50 L175.63,363.26 L175.00,364.02 Q116.00,319.00 65.65,372.71 Z" fill="#c09a48" fill-opacity="1.0" stroke="#3a3a3a" stroke-width="0.28" stroke-opacity="0.85"/>
<path d="M85.82,385.01 L84.89,384.62 L83.96,384.22 L83.05,383.80 Q116.00,319.00 175.00,364.02 L175.00,364.02 L174.36,364.77 L173.71,365.50 L173.06,366.24 Q116.00,319.00 85.82,385.01 Z" fill="#c09a48" fill-opacity="1.0" stroke="#3a3a3a" stroke-width="0.28" stroke-opacity="0.85"/>
<path d="M57.19,273.76 L57.75,273.11 L58.32,272.46 L58.90,271.81 Q116.00,319.00 172.00,367.36 L172.00,367.36 L171.30,368.10 L170.58,368.82 L169.85,369.53 Q116.00,319.00 57.19,273.76 Z" fill="#f08a48" fill-opacity="1.0" stroke="#3a3a3a" stroke-width="0.28" stroke-opacity="0.85"/>
<path d="M42.70,336.61 L42.46,335.71 L42.24,334.81 Q116.00,319.00 169.85,369.53 L169.85,369.53 L169.11,370.24 L168.37,370.93 L167.61,371.61 Q116.00,319.00 42.70,336.61 Z" fill="#f08a48" fill-opacity="1.0" stroke="#3a3a3a" stroke-width="0.28" stroke-opacity="0.85"/>
<path d="M51.79,357.00 L51.23,356.14 L50.69,355.26 Q116.00,319.00 167.61,371.61 L167.61,371.61 L166.84,372.29 L166.06,372.95 L165.27,373.61 Q116.00,319.00 51.79,357.00 Z" fill="#f08a48" fill-opacity="1.0" stroke="#3a3a3a" stroke-width="0.28" stroke-opacity="0.85"/>
<path d="M67.26,374.04 L66.45,373.38 L65.65,372.71 Q116.00,319.00 165.27,373.61 L165.27,373.61 L164.48,374.25 L163.67,374.88 L162.86,375.50 Q116.00,319.00 67.26,374.04 Z" fill="#f08a48" fill-opacity="1.0" stroke="#3a3a3a" stroke-width="0.28" stroke-opacity="0.85"/>
<path d="M55.54,275.77 L56.08,275.09 L56.63,274.43 L57.19,273.76 Q116.00,319.00 161.60,376.43 L161.60,376.43 L160.79,377.00 L159.97,377.57 L159.15,378.12 Q116.00,319.00 55.54,275.77 Z" fill="#f0562e" fill-opacity="1.0" stroke="#3a3a3a" stroke-width="0.28" stroke-opacity="0.85"/>
<path d="M43.19,338.40 L42.94,337.50 L42.70,336.61 Q116.00,319.00 159.15,378.12 L159.15,378.12 L158.31,378.67 L157.47,379.20 L156.62,379.72 Q116.00,319.00 43.19,338.40 Z" fill="#f0562e" fill-opacity="1.0" stroke="#3a3a3a" stroke-width="0.28" stroke-opacity="0.85"/>
<path d="M52.94,358.72 L52.36,357.87 L51.79,357.00 Q116.00,319.00 156.62,379.72 L156.62,379.72 L155.76,380.24 L154.90,380.74 L154.03,381.23 Q116.00,319.00 52.94,358.72 Z" fill="#f0562e" fill-opacity="1.0" stroke="#3a3a3a" stroke-width="0.28" stroke-opacity="0.85"/>
<path d="M68.92,375.33 L68.09,374.69 L67.26,374.04 Q116.00,319.00 154.03,381.23 L154.03,381.23 L153.15,381.71 L152.27,382.17 L151.38,382.63 Q116.00,319.00 68.92,375.33 Z" fill="#f0562e" fill-opacity="1.0" stroke="#3a3a3a" stroke-width="0.28" stroke-opacity="0.85"/>
<path d="M96.71,249.38 L97.69,249.14 L98.68,248.91 L99.67,248.70 Q116.00,319.00 149.97,383.32 L149.97,383.32 L149.09,383.74 L148.21,384.14 L147.33,384.53 Q116.00,319.00 96.71,249.38 Z" fill="#f58c8c" fill-opacity="1.0" stroke="#3a3a3a" stroke-width="0.28" stroke-opacity="0.85"/>
<path d="M72.53,260.09 L73.26,259.61 L74.00,259.13 L74.74,258.67 Q116.00,319.00 147.33,384.53 L147.33,384.53 L146.44,384.91 L145.54,385.28 L144.64,385.63 Q116.00,319.00 72.53,260.09 Z" fill="#f58c8c" fill-opacity="1.0" stroke="#3a3a3a" stroke-width="0.28" stroke-opacity="0.85"/>
<path d="M44.48,295.68 L44.87,294.61 L45.28,293.55 Q116.00,319.00 144.64,385.63 L144.64,385.63 L143.73,385.98 L142.82,386.32 L141.91,386.64 Q116.00,319.00 44.48,295.68 Z" fill="#f58c8c" fill-opacity="1.0" stroke="#3a3a3a" stroke-width="0.28" stroke-opacity="0.85"/>
<path d="M88.64,386.12 L87.70,385.76 L86.76,385.39 L85.82,385.01 Q116.00,319.00 141.91,386.64 L141.91,386.64 L140.99,386.95 L140.06,387.26 L139.14,387.55 Q116.00,319.00 88.64,386.12 Z" fill="#f58c8c" fill-opacity="1.0" stroke="#3a3a3a" stroke-width="0.28" stroke-opacity="0.85"/>
<path d="M104.17,390.11 L102.42,389.83 L100.67,389.50 L98.93,389.14 L97.20,388.74 L95.48,388.30 L93.77,387.82 Q116.00,319.00 139.14,387.55 L139.14,387.55 L138.20,387.82 L137.27,388.09 L136.33,388.35 Q116.00,319.00 104.17,390.11 Z" fill="#f58c8c" fill-opacity="1.0" stroke="#3a3a3a" stroke-width="0.28" stroke-opacity="0.85"/>
<path d="M43.74,340.17 L43.46,339.28 L43.19,338.40 Q116.00,319.00 134.80,388.74 L134.80,388.74 L133.89,388.95 L132.98,389.16 L132.07,389.35 Q116.00,319.00 43.74,340.17 Z" fill="#f26464" fill-opacity="1.0" stroke="#3a3a3a" stroke-width="0.28" stroke-opacity="0.85"/>
<path d="M54.15,360.40 L53.54,359.56 L52.94,358.72 Q116.00,319.00 132.07,389.35 L132.07,389.35 L131.16,389.54 L130.24,389.71 L129.32,389.87 Q116.00,319.00 54.15,360.40 Z" fill="#f26464" fill-opacity="1.0" stroke="#3a3a3a" stroke-width="0.28" stroke-opacity="0.85"/>
<path d="M70.61,376.58 L69.76,375.96 L68.92,375.33 Q116.00,319.00 129.32,389.87 L129.32,389.87 L128.40,390.02 L127.48,390.17 L126.55,390.29 Q116.00,319.00 70.61,376.58 Z" fill="#f26464" fill-opacity="1.0" stroke="#3a3a3a" stroke-width="0.28" stroke-opacity="0.85"/>
<path d="M91.51,387.12 L90.55,386.80 L89.59,386.47 L88.64,386.12 Q116.00,319.00 126.55,390.29 L126.55,390.29 L125.63,390.41 L124.70,390.52 L123.77,390.62 Q116.00,319.00 91.51,387.12 Z" fill="#f26464" fill-opacity="1.0" stroke="#3a3a3a" stroke-width="0.28" stroke-opacity="0.85"/>
<path d="M93.77,250.18 L94.75,249.90 L95.72,249.64 L96.71,249.38 Q116.00,319.00 122.19,390.76 L122.19,390.76 L121.30,390.82 L120.40,390.88 L119.50,390.92 Q116.00,319.00 93.77,250.18 Z" fill="#ee1c24" fill-opacity="1.0" stroke="#3a3a3a" stroke-width="0.28" stroke-opacity="0.85"/>
<path d="M114.81,390.99 L113.03,390.94 L111.25,390.86 L109.48,390.73 L107.70,390.57 L105.94,390.36 L104.17,390.11 Q116.00,319.00 119.50,390.92 L119.50,390.92 L118.59,390.96 L117.69,390.98 L116.79,391.00 Q116.00,319.00 114.81,390.99 Z" fill="#ee1c24" fill-opacity="1.0" stroke="#3a3a3a" stroke-width="0.28" stroke-opacity="0.85"/>
<path d="M116.88,239.00 L119.13,239.06 L121.38,239.16 L123.63,239.33 L125.87,239.55 L128.11,239.84 L130.33,240.17 L132.55,240.57 L134.75,241.02 L132.88,248.82 L130.89,248.41 L128.90,248.06 L126.90,247.75 L124.89,247.50 L122.87,247.30 L120.85,247.15 L118.82,247.05 L116.79,247.00 Z" fill="#a5afd0" stroke="#6a6a6a" stroke-width="0.4" fill-opacity="1"/>
<path d="M136.46,241.41 L138.81,242.01 L141.14,242.67 L143.45,243.39 L145.73,244.18 L147.99,245.03 L150.22,245.94 L152.43,246.91 L148.78,254.12 L146.80,253.25 L144.79,252.43 L142.76,251.66 L140.70,250.95 L138.63,250.30 L136.53,249.71 L134.42,249.17 Z" fill="#aec7e2" stroke="#6a6a6a" stroke-width="0.4" fill-opacity="1"/>
<path d="M154.00,247.66 L156.13,248.72 L158.22,249.84 L160.28,251.02 L162.30,252.25 L164.29,253.54 L166.23,254.88 L168.13,256.27 L169.99,257.72 L164.59,263.84 L162.92,262.54 L161.21,261.29 L159.46,260.08 L157.67,258.93 L155.85,257.82 L154.00,256.76 L152.12,255.75 L150.20,254.79 Z" fill="#9dc4e1" stroke="#6a6a6a" stroke-width="0.4" fill-opacity="1"/>
<path d="M171.33,258.81 L173.13,260.36 L174.89,261.95 L176.60,263.60 L178.26,265.29 L179.86,267.03 L181.41,268.81 L182.91,270.63 L176.22,275.47 L174.87,273.83 L173.47,272.23 L172.03,270.66 L170.54,269.14 L169.00,267.66 L167.42,266.22 L165.80,264.83 Z" fill="#95c6dd" stroke="#6a6a6a" stroke-width="0.4" fill-opacity="1"/>
<path d="M183.96,271.98 L185.20,273.65 L186.40,275.36 L187.56,277.10 L188.66,278.86 L189.72,280.65 L190.73,282.47 L191.69,284.31 L184.12,287.78 L183.26,286.12 L182.35,284.49 L181.40,282.88 L180.40,281.29 L179.36,279.73 L178.28,278.19 L177.16,276.68 Z" fill="#86c6d1" stroke="#6a6a6a" stroke-width="0.4" fill-opacity="1"/>
<path d="M192.44,285.82 L193.24,287.55 L193.99,289.29 L194.71,291.05 L195.38,292.82 L196.00,294.61 L196.58,296.41 L188.52,298.67 L188.00,297.05 L187.44,295.44 L186.84,293.84 L186.19,292.26 L185.51,290.69 L184.79,289.14 Z" fill="#86c7cc" stroke="#6a6a6a" stroke-width="0.4" fill-opacity="1"/>
<path d="M197.06,298.02 L197.44,299.41 L197.80,300.80 L198.13,302.20 L198.43,303.60 L190.19,305.14 L189.91,303.88 L189.62,302.62 L189.30,301.37 L188.96,300.12 Z" fill="#7dc4b6" stroke="#6a6a6a" stroke-width="0.4" fill-opacity="1"/>
<path d="M198.75,305.25 L198.97,306.53 L199.18,307.82 L199.36,309.11 L191.02,310.10 L190.86,308.94 L190.68,307.78 L190.47,306.62 Z" fill="#84c3b1" stroke="#6a6a6a" stroke-width="0.4" fill-opacity="1"/>
<path d="M199.56,310.78 L199.71,312.31 L199.82,313.84 L199.91,315.37 L191.52,315.73 L191.44,314.35 L191.33,312.98 L191.20,311.60 Z" fill="#90c4a4" stroke="#6a6a6a" stroke-width="0.4" fill-opacity="1"/>
<path d="M199.97,317.05 L200.00,319.49 L199.94,321.94 L199.81,324.39 L199.60,326.83 L199.31,329.26 L198.94,331.68 L198.49,334.10 L197.97,336.49 L197.37,338.87 L196.69,341.24 L195.94,343.58 L195.11,345.90 L194.21,348.19 L186.39,345.27 L187.20,343.21 L187.94,341.12 L188.62,339.01 L189.23,336.89 L189.77,334.74 L190.24,332.59 L190.64,330.42 L190.98,328.23 L191.24,326.05 L191.43,323.85 L191.55,321.65 L191.60,319.44 L191.58,317.24 Z" fill="#a6b685" stroke="#6a6a6a" stroke-width="0.4" fill-opacity="1"/>
<path d="M193.55,349.74 L192.57,351.89 L191.53,354.00 L190.43,356.09 L189.26,358.14 L188.03,360.16 L186.74,362.14 L185.38,364.09 L183.97,366.00 L182.50,367.87 L180.98,369.70 L179.40,371.48 L173.06,366.24 L174.48,364.63 L175.85,362.98 L177.18,361.30 L178.45,359.58 L179.66,357.83 L180.83,356.04 L181.93,354.23 L182.99,352.38 L183.98,350.50 L184.92,348.60 L185.79,346.67 Z" fill="#c4ad7a" stroke="#6a6a6a" stroke-width="0.4" fill-opacity="1"/>
<path d="M178.23,372.74 L176.64,374.35 L175.02,375.93 L173.34,377.46 L171.62,378.95 L169.86,380.39 L168.06,381.78 L162.86,375.50 L164.48,374.25 L166.06,372.95 L167.61,371.61 L169.11,370.24 L170.58,368.82 L172.00,367.36 Z" fill="#e2a37a" stroke="#6a6a6a" stroke-width="0.4" fill-opacity="1"/>
<path d="M166.67,382.81 L164.86,384.08 L163.01,385.30 L161.13,386.47 L159.22,387.60 L157.28,388.67 L155.31,389.70 L151.38,382.63 L153.15,381.71 L154.90,380.74 L156.62,379.72 L158.31,378.67 L159.97,377.57 L161.60,376.43 Z" fill="#e2836a" stroke="#6a6a6a" stroke-width="0.4" fill-opacity="1"/>
<path d="M153.74,390.47 L151.65,391.44 L149.53,392.35 L147.39,393.20 L145.22,394.00 L143.03,394.74 L140.82,395.43 L138.59,396.05 L136.33,388.35 L138.34,387.79 L140.33,387.17 L142.30,386.50 L144.25,385.78 L146.18,385.01 L148.09,384.19 L149.97,383.32 Z" fill="#e5a4a4" stroke="#6a6a6a" stroke-width="0.4" fill-opacity="1"/>
<path d="M136.89,396.49 L134.87,396.95 L132.84,397.38 L130.80,397.75 L128.75,398.07 L126.70,398.35 L124.63,398.58 L123.77,390.62 L125.63,390.41 L127.48,390.17 L129.32,389.87 L131.16,389.54 L132.98,389.16 L134.80,388.74 Z" fill="#e38b8b" stroke="#6a6a6a" stroke-width="0.4" fill-opacity="1"/>
<path d="M122.88,398.73 L121.38,398.84 L119.88,398.91 L118.38,398.97 L116.88,399.00 L116.79,391.00 L118.14,390.97 L119.50,390.92 L120.85,390.85 L122.19,390.76 Z" fill="#e15f64" stroke="#6a6a6a" stroke-width="0.4" fill-opacity="1"/>
<path d="M91.30,242.54 L93.58,241.90 L95.88,241.33 L98.19,240.82 L100.52,240.37 L102.86,239.98 L105.21,239.66 L107.57,239.40 L109.94,239.21 L112.31,239.08 L114.68,239.01 L114.75,243.01 L112.49,243.07 L110.24,243.20 L107.99,243.38 L105.75,243.63 L103.52,243.94 L101.29,244.30 L99.08,244.73 L96.88,245.21 L94.70,245.76 L92.54,246.36 Z" fill="#c8372c" fill-opacity="1"/>
<path d="M67.70,253.55 L69.66,252.27 L71.66,251.05 L73.70,249.89 L75.76,248.77 L77.86,247.72 L80.00,246.72 L82.16,245.78 L84.34,244.90 L86.56,244.08 L88.79,243.31 L90.15,247.10 L88.03,247.82 L85.93,248.60 L83.85,249.44 L81.80,250.34 L79.77,251.28 L77.78,252.29 L75.81,253.34 L73.88,254.45 L71.98,255.61 L70.11,256.82 Z" fill="#c8372c" fill-opacity="1"/>
<path d="M48.83,270.97 L50.28,269.18 L51.78,267.43 L53.34,265.72 L54.95,264.05 L56.60,262.43 L58.31,260.85 L60.06,259.32 L61.85,257.84 L63.69,256.41 L65.56,255.03 L68.09,258.22 L66.30,259.54 L64.56,260.90 L62.85,262.31 L61.19,263.76 L59.57,265.26 L58.00,266.80 L56.47,268.38 L55.00,270.01 L53.57,271.67 L52.19,273.37 Z" fill="#c8372c" fill-opacity="1"/>
<path d="M36.53,293.09 L37.33,290.96 L38.19,288.85 L39.12,286.77 L40.11,284.71 L41.16,282.68 L42.26,280.68 L43.43,278.71 L44.66,276.77 L45.94,274.87 L47.28,273.00 L50.71,275.30 L49.44,277.07 L48.22,278.88 L47.06,280.72 L45.95,282.60 L44.90,284.50 L43.90,286.42 L42.96,288.38 L42.08,290.36 L41.26,292.36 L40.50,294.38 Z" fill="#c8372c" fill-opacity="1"/>
<path d="M32.01,317.74 L32.08,315.48 L32.22,313.22 L32.42,310.97 L32.70,308.72 L33.03,306.49 L33.44,304.26 L33.91,302.04 L34.45,299.84 L35.05,297.65 L35.71,295.48 L39.73,296.65 L39.09,298.72 L38.52,300.79 L38.01,302.89 L37.57,304.99 L37.18,307.11 L36.86,309.24 L36.60,311.37 L36.41,313.51 L36.28,315.66 L36.21,317.81 Z" fill="#c8372c" fill-opacity="1"/>
<path d="M35.71,342.52 L35.05,340.35 L34.45,338.16 L33.91,335.96 L33.44,333.74 L33.03,331.51 L32.70,329.28 L32.42,327.03 L32.22,324.78 L32.08,322.52 L32.01,320.26 L36.21,320.19 L36.28,322.34 L36.41,324.49 L36.60,326.63 L36.86,328.76 L37.18,330.89 L37.57,333.01 L38.01,335.11 L38.52,337.21 L39.09,339.28 L39.73,341.35 Z" fill="#c8372c" fill-opacity="1"/>
<path d="M47.28,365.00 L45.94,363.13 L44.66,361.23 L43.43,359.29 L42.26,357.32 L41.16,355.32 L40.11,353.29 L39.12,351.23 L38.19,349.15 L37.33,347.04 L36.53,344.91 L40.50,343.62 L41.26,345.64 L42.08,347.64 L42.96,349.62 L43.90,351.58 L44.90,353.50 L45.95,355.40 L47.06,357.28 L48.22,359.12 L49.44,360.93 L50.71,362.70 Z" fill="#c8372c" fill-opacity="1"/>
<path d="M65.56,382.97 L63.69,381.59 L61.85,380.16 L60.06,378.68 L58.31,377.15 L56.60,375.57 L54.95,373.95 L53.34,372.28 L51.78,370.57 L50.28,368.82 L48.83,367.03 L52.19,364.63 L53.57,366.33 L55.00,367.99 L56.47,369.62 L58.00,371.20 L59.57,372.74 L61.19,374.24 L62.85,375.69 L64.56,377.10 L66.30,378.46 L68.09,379.78 Z" fill="#c8372c" fill-opacity="1"/>
<path d="M88.79,394.69 L86.56,393.92 L84.34,393.10 L82.16,392.22 L80.00,391.28 L77.86,390.28 L75.76,389.23 L73.70,388.11 L71.66,386.95 L69.66,385.73 L67.70,384.45 L70.11,381.18 L71.98,382.39 L73.88,383.55 L75.81,384.66 L77.78,385.71 L79.77,386.72 L81.80,387.66 L83.85,388.56 L85.93,389.40 L88.03,390.18 L90.15,390.90 Z" fill="#c8372c" fill-opacity="1"/>
<path d="M114.68,398.99 L112.31,398.92 L109.94,398.79 L107.57,398.60 L105.21,398.34 L102.86,398.02 L100.52,397.63 L98.19,397.18 L95.88,396.67 L93.58,396.10 L91.30,395.46 L92.54,391.64 L94.70,392.24 L96.88,392.79 L99.08,393.27 L101.29,393.70 L103.52,394.06 L105.75,394.37 L107.99,394.62 L110.24,394.80 L112.49,394.93 L114.75,394.99 Z" fill="#c8372c" fill-opacity="1"/>
<text transform="translate(98.80,235.20) rotate(90.00)" font-family='"Liberation Sans", sans-serif' font-size="6.0" font-weight="normal" fill="#2a2a2a" text-anchor="end" dominant-baseline="central">FADS1</text>
<text transform="translate(72.40,242.80) rotate(71.00)" font-family='"Liberation Sans", sans-serif' font-size="6.0" font-weight="normal" fill="#2a2a2a" text-anchor="end" dominant-baseline="central">TECR</text>
<text transform="translate(51.80,261.80) rotate(53.60)" font-family='"Liberation Sans", sans-serif' font-size="6.0" font-weight="normal" fill="#2a2a2a" text-anchor="end" dominant-baseline="central">HACD3</text>
<text transform="translate(38.80,285.50) rotate(34.00)" font-family='"Liberation Sans", sans-serif' font-size="6.0" font-weight="normal" fill="#2a2a2a" text-anchor="end" dominant-baseline="central">HSD17B12</text>
<text transform="translate(28.00,307.50) rotate(13.70)" font-family='"Liberation Sans", sans-serif' font-size="6.0" font-weight="normal" fill="#2a2a2a" text-anchor="end" dominant-baseline="central">ELOVL2</text>
<text transform="translate(26.80,334.30) rotate(-14.00)" font-family='"Liberation Sans", sans-serif' font-size="6.0" font-weight="normal" fill="#2a2a2a" text-anchor="end" dominant-baseline="central">HACD1</text>
<text transform="translate(36.40,359.30) rotate(-30.00)" font-family='"Liberation Sans", sans-serif' font-size="6.0" font-weight="normal" fill="#2a2a2a" text-anchor="end" dominant-baseline="central">HACD2</text>
<text transform="translate(52.70,379.50) rotate(-55.00)" font-family='"Liberation Sans", sans-serif' font-size="6.0" font-weight="normal" fill="#2a2a2a" text-anchor="end" dominant-baseline="central">HACD4</text>
<text transform="translate(74.50,398.60) rotate(-73.00)" font-family='"Liberation Sans", sans-serif' font-size="6.0" font-weight="normal" fill="#2a2a2a" text-anchor="end" dominant-baseline="central">SCD</text>
<text transform="translate(101.50,404.80) rotate(-90.00)" font-family='"Liberation Sans", sans-serif' font-size="6.0" font-weight="normal" fill="#2a2a2a" text-anchor="end" dominant-baseline="central">SC5D</text>
<text transform="translate(204.70,227.00) scale(0.897,1)" font-family='"Liberation Serif", serif' font-size="8.2" font-weight="normal" fill="#222" text-anchor="start">Go_terms</text>
<rect x="208.2" y="233.15" width="6.7" height="8.3" fill="#8d9ed3" stroke="#555" stroke-width="0.4"/>
<text transform="translate(219.00,239.00) scale(0.763,1)" font-family='"Liberation Sans", sans-serif' font-size="4.5" font-weight="normal" fill="#222" text-anchor="start">very long-chain fatty acid biosynthetic process</text>
<rect x="208.2" y="247.25" width="6.7" height="8.3" fill="#5bc2d4" stroke="#555" stroke-width="0.4"/>
<text transform="translate(219.00,253.10) scale(0.763,1)" font-family='"Liberation Sans", sans-serif' font-size="4.5" font-weight="normal" fill="#222" text-anchor="start">sphingolipid biosynthetic process</text>
<rect x="208.2" y="261.55" width="6.7" height="8.3" fill="#6bbf8c" stroke="#555" stroke-width="0.4"/>
<text transform="translate(219.00,267.40) scale(0.763,1)" font-family='"Liberation Sans", sans-serif' font-size="4.5" font-weight="normal" fill="#222" text-anchor="start">linoleic acid metabolic process</text>
<rect x="208.2" y="276.35" width="6.7" height="8.3" fill="#f0562e" stroke="#555" stroke-width="0.4"/>
<text transform="translate(219.00,282.20) scale(0.763,1)" font-family='"Liberation Sans", sans-serif' font-size="4.5" font-weight="normal" fill="#222" text-anchor="start">3-hydroxyacyl-CoA dehydratase activity</text>
<rect x="208.2" y="290.55" width="6.7" height="8.3" fill="#9cc4f0" stroke="#555" stroke-width="0.4"/>
<text transform="translate(219.00,296.40) scale(0.763,1)" font-family='"Liberation Sans", sans-serif' font-size="4.5" font-weight="normal" fill="#222" text-anchor="start">fatty acid elongation</text>
<rect x="208.2" y="305.35" width="6.7" height="8.3" fill="#5cc4cc" stroke="#555" stroke-width="0.4"/>
<text transform="translate(219.00,311.20) scale(0.763,1)" font-family='"Liberation Sans", sans-serif' font-size="4.5" font-weight="normal" fill="#222" text-anchor="start">unsaturated fatty acid biosynthetic process</text>
<rect x="208.2" y="319.85" width="6.7" height="8.3" fill="#8fa85a" stroke="#555" stroke-width="0.4"/>
<text transform="translate(219.00,325.70) scale(0.763,1)" font-family='"Liberation Sans", sans-serif' font-size="4.5" font-weight="normal" fill="#222" text-anchor="start">endoplasmic reticulum membrane</text>
<rect x="208.2" y="334.45" width="6.7" height="8.3" fill="#f58c8c" stroke="#555" stroke-width="0.4"/>
<text transform="translate(219.00,340.30) scale(0.763,1)" font-family='"Liberation Sans", sans-serif' font-size="4.5" font-weight="normal" fill="#222" text-anchor="start">oxidoreductase activity</text>
<rect x="208.2" y="348.55" width="7.6" height="9.1" fill="#80c0ee" stroke="#555" stroke-width="0.4"/>
<text transform="translate(220.00,354.90) scale(0.778,1)" font-family='"Liberation Sans", sans-serif' font-size="4.8" font-weight="normal" fill="#222" text-anchor="start">fatty acid biosynthetic process</text>
<rect x="208.2" y="363.75" width="7.6" height="9.1" fill="#4cbfa8" stroke="#555" stroke-width="0.4"/>
<text transform="translate(220.00,370.10) scale(0.778,1)" font-family='"Liberation Sans", sans-serif' font-size="4.8" font-weight="normal" fill="#222" text-anchor="start">fatty acid elongation, saturated fatty acid</text>
<rect x="208.2" y="379.95" width="7.6" height="9.1" fill="#c09a48" stroke="#555" stroke-width="0.4"/>
<text transform="translate(220.00,386.30) scale(0.778,1)" font-family='"Liberation Sans", sans-serif' font-size="4.8" font-weight="normal" fill="#222" text-anchor="start">endoplasmic reticulum</text>
<rect x="208.2" y="396.15" width="7.6" height="9.1" fill="#f26464" stroke="#555" stroke-width="0.4"/>
<text transform="translate(220.00,402.50) scale(0.778,1)" font-family='"Liberation Sans", sans-serif' font-size="4.8" font-weight="normal" fill="#222" text-anchor="start">enzyme binding</text>
<rect x="208.2" y="413.45" width="7.6" height="9.1" fill="#74c2e8" stroke="#555" stroke-width="0.4"/>
<text transform="translate(220.00,419.80) scale(0.778,1)" font-family='"Liberation Sans", sans-serif' font-size="4.8" font-weight="normal" fill="#222" text-anchor="start">long-chain fatty-acyl-CoA biosynthetic process</text>
<rect x="208.2" y="429.75" width="7.6" height="9.1" fill="#58bea0" stroke="#555" stroke-width="0.4"/>
<text transform="translate(220.00,436.10) scale(0.778,1)" font-family='"Liberation Sans", sans-serif' font-size="4.8" font-weight="normal" fill="#222" text-anchor="start">alpha-linolenic acid metabolic process</text>
<rect x="208.2" y="445.85" width="7.6" height="9.1" fill="#f08a48" stroke="#555" stroke-width="0.4"/>
<text transform="translate(220.00,452.20) scale(0.778,1)" font-family='"Liberation Sans", sans-serif' font-size="4.8" font-weight="normal" fill="#222" text-anchor="start">very-long-chain (3R)-3-hydroxyacyl-CoA dehydratase activity</text>
<rect x="208.2" y="461.45" width="7.6" height="9.1" fill="#ee1c24" stroke="#555" stroke-width="0.4"/>
<text transform="translate(220.00,467.80) scale(0.778,1)" font-family='"Liberation Sans", sans-serif' font-size="4.8" font-weight="normal" fill="#222" text-anchor="start">C-5 sterol desaturase activity</text>
<text x="6.8" y="428.9" font-family='"Liberation Serif", serif' font-size="8.8" fill="#333">C</text>
<path d="M109.63,466.75 L111.42,466.58 L113.21,466.45 L115.01,466.36 L116.80,466.31 Q118.00,540.30 118.80,466.30 L118.80,466.30 L120.44,466.34 L122.07,466.41 L123.71,466.51 L125.34,466.64 Q118.00,540.30 109.63,466.75 Z" fill="#7ec4ec" fill-opacity="0.95" stroke="#444" stroke-width="0.3" stroke-opacity="0.85"/>
<path d="M88.27,472.16 L89.52,471.66 L90.77,471.18 L92.03,470.72 L93.30,470.29 Q118.00,540.30 125.34,466.64 L125.34,466.64 L126.97,466.81 L128.59,467.02 L130.21,467.25 L131.82,467.53 Q118.00,540.30 88.27,472.16 Z" fill="#7ec4ec" fill-opacity="0.95" stroke="#444" stroke-width="0.3" stroke-opacity="0.85"/>
<path d="M68.03,484.41 L69.06,483.56 L70.10,482.73 L71.15,481.92 L72.22,481.12 Q118.00,540.30 131.82,467.53 L131.82,467.53 L133.43,467.83 L135.03,468.17 L136.62,468.54 L138.20,468.95 Q118.00,540.30 68.03,484.41 Z" fill="#7ec4ec" fill-opacity="0.95" stroke="#444" stroke-width="0.3" stroke-opacity="0.85"/>
<path d="M52.68,502.13 L53.39,501.02 L54.11,499.92 L54.86,498.83 L55.62,497.75 Q118.00,540.30 138.20,468.95 L138.20,468.95 L139.78,469.38 L141.34,469.85 L142.90,470.36 L144.44,470.89 Q118.00,540.30 52.68,502.13 Z" fill="#7ec4ec" fill-opacity="0.95" stroke="#444" stroke-width="0.3" stroke-opacity="0.85"/>
<path d="M43.73,523.59 L44.04,522.32 L44.38,521.05 L44.74,519.79 L45.13,518.54 Q118.00,540.30 144.44,470.89 L144.44,470.89 L145.97,471.46 L147.48,472.06 L148.99,472.69 L150.48,473.35 Q118.00,540.30 43.73,523.59 Z" fill="#7ec4ec" fill-opacity="0.95" stroke="#444" stroke-width="0.3" stroke-opacity="0.85"/>
<path d="M42.04,546.69 L41.94,545.38 L41.86,544.08 L41.80,542.77 L41.77,541.46 Q118.00,540.30 150.48,473.35 L150.48,473.35 L151.95,474.04 L153.41,474.76 L154.85,475.52 L156.27,476.30 Q118.00,540.30 42.04,546.69 Z" fill="#7ec4ec" fill-opacity="0.95" stroke="#444" stroke-width="0.3" stroke-opacity="0.85"/>
<path d="M47.79,569.15 L47.28,567.95 L46.79,566.73 L46.32,565.50 L45.87,564.27 Q118.00,540.30 156.27,476.30 L156.27,476.30 L157.68,477.11 L159.07,477.95 L160.44,478.83 L161.79,479.72 Q118.00,540.30 47.79,569.15 Z" fill="#7ec4ec" fill-opacity="0.95" stroke="#444" stroke-width="0.3" stroke-opacity="0.85"/>
<path d="M60.42,588.80 L59.54,587.80 L58.69,586.79 L57.85,585.77 L57.03,584.73 Q118.00,540.30 161.79,479.72 L161.79,479.72 L163.12,480.65 L164.43,481.60 L165.72,482.59 L166.99,483.59 Q118.00,540.30 60.42,588.80 Z" fill="#7ec4ec" fill-opacity="0.95" stroke="#444" stroke-width="0.3" stroke-opacity="0.85"/>
<path d="M80.23,604.58 L78.68,603.70 L77.15,602.78 L75.64,601.83 L74.16,600.84 Q118.00,540.30 166.99,483.59 L166.99,483.59 L168.23,484.63 L169.45,485.69 L170.65,486.77 L171.82,487.88 Q118.00,540.30 80.23,604.58 Z" fill="#7ec4ec" fill-opacity="0.95" stroke="#444" stroke-width="0.3" stroke-opacity="0.85"/>
<path d="M102.54,467.84 L104.30,467.50 L106.07,467.21 L107.85,466.96 L109.63,466.75 Q118.00,540.30 172.94,488.99 L172.94,488.99 L174.07,490.16 L175.18,491.35 L176.26,492.57 L177.32,493.81 Q118.00,540.30 102.54,467.84 Z" fill="#5cc0a0" fill-opacity="0.95" stroke="#444" stroke-width="0.3" stroke-opacity="0.85"/>
<path d="M83.39,474.37 L84.59,473.78 L85.81,473.22 L87.04,472.68 L88.27,472.16 Q118.00,540.30 177.32,493.81 L177.32,493.81 L178.34,495.07 L179.34,496.35 L180.31,497.66 L181.25,498.98 Q118.00,540.30 83.39,474.37 Z" fill="#5cc0a0" fill-opacity="0.95" stroke="#444" stroke-width="0.3" stroke-opacity="0.85"/>
<path d="M64.09,487.97 L65.05,487.06 L66.03,486.16 L67.02,485.27 L68.03,484.41 Q118.00,540.30 181.25,498.98 L181.25,498.98 L182.16,500.32 L183.04,501.68 L183.89,503.06 L184.70,504.46 Q118.00,540.30 64.09,487.97 Z" fill="#5cc0a0" fill-opacity="0.95" stroke="#444" stroke-width="0.3" stroke-opacity="0.85"/>
<path d="M50.07,506.70 L50.69,505.54 L51.33,504.40 L52.00,503.26 L52.68,502.13 Q118.00,540.30 184.70,504.46 L184.70,504.46 L185.49,505.88 L186.25,507.31 L186.97,508.75 L187.66,510.21 Q118.00,540.30 50.07,506.70 Z" fill="#5cc0a0" fill-opacity="0.95" stroke="#444" stroke-width="0.3" stroke-opacity="0.85"/>
<path d="M42.70,528.72 L42.92,527.43 L43.16,526.15 L43.43,524.87 L43.73,523.59 Q118.00,540.30 187.66,510.21 L187.66,510.21 L188.31,511.69 L188.94,513.18 L189.53,514.68 L190.08,516.19 Q118.00,540.30 42.70,528.72 Z" fill="#5cc0a0" fill-opacity="0.95" stroke="#444" stroke-width="0.3" stroke-opacity="0.85"/>
<path d="M42.70,551.88 L42.50,550.58 L42.32,549.29 L42.17,547.99 L42.04,546.69 Q118.00,540.30 190.08,516.19 L190.08,516.19 L190.61,517.72 L191.09,519.26 L191.55,520.80 L191.97,522.36 Q118.00,540.30 42.70,551.88 Z" fill="#5cc0a0" fill-opacity="0.95" stroke="#444" stroke-width="0.3" stroke-opacity="0.85"/>
<path d="M50.07,573.90 L49.47,572.72 L48.89,571.54 L48.33,570.35 L47.79,569.15 Q118.00,540.30 191.97,522.36 L191.97,522.36 L192.35,523.92 L192.70,525.49 L193.01,527.07 L193.29,528.65 Q118.00,540.30 50.07,573.90 Z" fill="#5cc0a0" fill-opacity="0.95" stroke="#444" stroke-width="0.3" stroke-opacity="0.85"/>
<path d="M64.09,592.63 L63.14,591.69 L62.22,590.74 L61.31,589.78 L60.42,588.80 Q118.00,540.30 193.29,528.65 L193.29,528.65 L193.54,530.24 L193.74,531.84 L193.91,533.44 L194.05,535.04 Q118.00,540.30 64.09,592.63 Z" fill="#5cc0a0" fill-opacity="0.95" stroke="#444" stroke-width="0.3" stroke-opacity="0.85"/>
<path d="M86.63,607.74 L85.00,607.01 L83.39,606.23 L81.80,605.42 L80.23,604.58 Q118.00,540.30 194.05,535.04 L194.05,535.04 L194.15,536.64 L194.21,538.25 L194.24,539.86 L194.23,541.46 Q118.00,540.30 86.63,607.74 Z" fill="#5cc0a0" fill-opacity="0.95" stroke="#444" stroke-width="0.3" stroke-opacity="0.85"/>
<path d="M78.68,476.90 L79.84,476.24 L81.01,475.59 L82.19,474.97 L83.39,474.37 Q118.00,540.30 194.19,543.01 L194.19,543.01 L194.11,544.71 L193.98,546.40 L193.82,548.09 L193.61,549.78 Q118.00,540.30 78.68,476.90 Z" fill="#f8b050" fill-opacity="0.95" stroke="#444" stroke-width="0.3" stroke-opacity="0.85"/>
<path d="M60.42,491.80 L61.31,490.82 L62.22,489.86 L63.14,488.91 L64.09,487.97 Q118.00,540.30 193.61,549.78 L193.61,549.78 L193.37,551.46 L193.09,553.13 L192.76,554.80 L192.40,556.46 Q118.00,540.30 60.42,491.80 Z" fill="#f8b050" fill-opacity="0.95" stroke="#444" stroke-width="0.3" stroke-opacity="0.85"/>
<path d="M47.79,511.45 L48.33,510.25 L48.89,509.06 L49.47,507.88 L50.07,506.70 Q118.00,540.30 192.40,556.46 L192.40,556.46 L192.00,558.11 L191.56,559.76 L191.08,561.39 L190.56,563.01 Q118.00,540.30 47.79,511.45 Z" fill="#f8b050" fill-opacity="0.95" stroke="#444" stroke-width="0.3" stroke-opacity="0.85"/>
<path d="M42.04,533.91 L42.17,532.61 L42.32,531.31 L42.50,530.02 L42.70,528.72 Q118.00,540.30 190.56,563.01 L190.56,563.01 L190.01,564.62 L189.41,566.22 L188.78,567.80 L188.11,569.37 Q118.00,540.30 42.04,533.91 Z" fill="#f8b050" fill-opacity="0.95" stroke="#444" stroke-width="0.3" stroke-opacity="0.85"/>
<path d="M43.73,557.01 L43.43,555.73 L43.16,554.45 L42.92,553.17 L42.70,551.88 Q118.00,540.30 188.11,569.37 L188.11,569.37 L187.41,570.92 L186.67,572.46 L185.89,573.98 L185.08,575.48 Q118.00,540.30 43.73,557.01 Z" fill="#f8b050" fill-opacity="0.95" stroke="#444" stroke-width="0.3" stroke-opacity="0.85"/>
<path d="M52.68,578.47 L52.00,577.34 L51.33,576.20 L50.69,575.06 L50.07,573.90 Q118.00,540.30 185.08,575.48 L185.08,575.48 L184.23,576.96 L183.34,578.43 L182.42,579.87 L181.47,581.30 Q118.00,540.30 52.68,578.47 Z" fill="#f8b050" fill-opacity="0.95" stroke="#444" stroke-width="0.3" stroke-opacity="0.85"/>
<path d="M68.03,596.19 L67.02,595.33 L66.03,594.44 L65.05,593.54 L64.09,592.63 Q118.00,540.30 181.47,581.30 L181.47,581.30 L180.49,582.70 L179.47,584.08 L178.42,585.44 L177.34,586.77 Q118.00,540.30 68.03,596.19 Z" fill="#f8b050" fill-opacity="0.95" stroke="#444" stroke-width="0.3" stroke-opacity="0.85"/>
<path d="M95.58,469.57 L97.30,469.08 L99.04,468.62 L100.78,468.21 L102.54,467.84 Q118.00,540.30 176.32,587.97 L176.32,587.97 L175.25,589.17 L174.15,590.36 L173.03,591.52 L171.88,592.65 Q118.00,540.30 95.58,469.57 Z" fill="#f06464" fill-opacity="0.95" stroke="#444" stroke-width="0.3" stroke-opacity="0.85"/>
<path d="M74.16,479.76 L75.27,479.01 L76.39,478.29 L77.53,477.59 L78.68,476.90 Q118.00,540.30 171.88,592.65 L171.88,592.65 L170.71,593.77 L169.51,594.85 L168.29,595.92 L167.05,596.95 Q118.00,540.30 74.16,479.76 Z" fill="#f06464" fill-opacity="0.95" stroke="#444" stroke-width="0.3" stroke-opacity="0.85"/>
<path d="M57.03,495.87 L57.85,494.83 L58.69,493.81 L59.54,492.80 L60.42,491.80 Q118.00,540.30 167.05,596.95 L167.05,596.95 L165.78,597.96 L164.49,598.95 L163.18,599.91 L161.85,600.84 Q118.00,540.30 57.03,495.87 Z" fill="#f06464" fill-opacity="0.95" stroke="#444" stroke-width="0.3" stroke-opacity="0.85"/>
<path d="M45.87,516.33 L46.32,515.10 L46.79,513.87 L47.28,512.65 L47.79,511.45 Q118.00,540.30 161.85,600.84 L161.85,600.84 L160.50,601.74 L159.13,602.61 L157.74,603.45 L156.33,604.27 Q118.00,540.30 45.87,516.33 Z" fill="#f06464" fill-opacity="0.95" stroke="#444" stroke-width="0.3" stroke-opacity="0.85"/>
<path d="M41.77,539.14 L41.80,537.83 L41.86,536.52 L41.94,535.22 L42.04,533.91 Q118.00,540.30 156.33,604.27 L156.33,604.27 L154.90,605.05 L153.46,605.81 L152.00,606.54 L150.52,607.23 Q118.00,540.30 41.77,539.14 Z" fill="#f06464" fill-opacity="0.95" stroke="#444" stroke-width="0.3" stroke-opacity="0.85"/>
<path d="M45.13,562.06 L44.74,560.81 L44.38,559.55 L44.04,558.28 L43.73,557.01 Q118.00,540.30 150.52,607.23 L150.52,607.23 L149.03,607.89 L147.53,608.53 L146.01,609.13 L144.48,609.69 Q118.00,540.30 45.13,562.06 Z" fill="#f06464" fill-opacity="0.95" stroke="#444" stroke-width="0.3" stroke-opacity="0.85"/>
<path d="M55.62,582.85 L54.86,581.77 L54.11,580.68 L53.39,579.58 L52.68,578.47 Q118.00,540.30 144.48,609.69 L144.48,609.69 L142.93,610.23 L141.38,610.74 L139.81,611.21 L138.23,611.65 Q118.00,540.30 55.62,582.85 Z" fill="#f06464" fill-opacity="0.95" stroke="#444" stroke-width="0.3" stroke-opacity="0.85"/>
<path d="M72.22,599.48 L71.15,598.68 L70.10,597.87 L69.06,597.04 L68.03,596.19 Q118.00,540.30 138.23,611.65 L138.23,611.65 L136.65,612.05 L135.05,612.43 L133.45,612.76 L131.84,613.07 Q118.00,540.30 72.22,599.48 Z" fill="#f06464" fill-opacity="0.95" stroke="#444" stroke-width="0.3" stroke-opacity="0.85"/>
<path d="M93.30,610.31 L91.61,609.73 L89.93,609.10 L88.27,608.44 L86.63,607.74 Q118.00,540.30 131.84,613.07 L131.84,613.07 L130.23,613.34 L128.60,613.58 L126.98,613.79 L125.35,613.96 Q118.00,540.30 93.30,610.31 Z" fill="#f06464" fill-opacity="0.95" stroke="#444" stroke-width="0.3" stroke-opacity="0.85"/>
<path d="M116.80,614.29 L114.65,614.23 L112.50,614.11 L110.35,613.93 L108.21,613.69 L106.07,613.39 L103.95,613.03 L101.84,612.62 L99.74,612.15 L97.65,611.62 L95.58,611.03 Q118.00,540.30 125.35,613.96 L125.35,613.96 L123.71,614.09 L122.08,614.19 L120.44,614.26 L118.80,614.30 Q118.00,540.30 116.80,614.29 Z" fill="#f06464" fill-opacity="0.95" stroke="#444" stroke-width="0.3" stroke-opacity="0.85"/>
<path d="M118.89,457.80 L121.63,457.88 L124.36,458.03 L127.09,458.27 L129.81,458.60 L132.51,459.01 L135.20,459.51 L137.87,460.09 L140.52,460.75 L143.15,461.49 L145.76,462.32 L148.33,463.23 L150.87,464.22 L153.38,465.29 L155.85,466.43 L158.28,467.65 L160.67,468.95 L163.02,470.32 L165.32,471.76 L167.57,473.28 L169.76,474.86 L171.91,476.52 L174.00,478.23 L176.03,480.02 L178.00,481.86 L171.82,487.88 L170.05,486.23 L168.23,484.63 L166.35,483.09 L164.43,481.60 L162.46,480.18 L160.44,478.83 L158.38,477.53 L156.27,476.30 L154.13,475.14 L151.95,474.04 L149.73,473.01 L147.48,472.06 L145.20,471.17 L142.90,470.36 L140.56,469.61 L138.20,468.95 L135.83,468.35 L133.43,467.83 L131.02,467.39 L128.59,467.02 L126.15,466.72 L123.71,466.51 L121.25,466.37 L118.80,466.30 Z" fill="#a2c4da" stroke="#888" stroke-width="0.3" fill-opacity="1"/>
<path d="M179.25,483.09 L181.13,485.06 L182.95,487.09 L184.71,489.17 L186.39,491.30 L187.99,493.49 L189.53,495.73 L190.99,498.02 L192.37,500.35 L193.67,502.72 L194.89,505.13 L196.03,507.58 L197.09,510.06 L198.06,512.58 L198.95,515.13 L199.75,517.70 L200.46,520.29 L201.09,522.91 L201.63,525.55 L202.08,528.20 L202.44,530.87 L202.71,533.54 L202.90,536.22 L202.99,538.91 L202.99,541.60 L194.23,541.46 L194.23,539.05 L194.15,536.64 L193.99,534.24 L193.74,531.84 L193.42,529.45 L193.01,527.07 L192.53,524.70 L191.97,522.36 L191.33,520.03 L190.61,517.72 L189.81,515.44 L188.94,513.18 L187.99,510.95 L186.97,508.75 L185.87,506.59 L184.70,504.46 L183.47,502.37 L182.16,500.32 L180.78,498.32 L179.34,496.35 L177.83,494.44 L176.26,492.57 L174.63,490.75 L172.94,488.99 Z" fill="#8cbcaa" stroke="#888" stroke-width="0.3" fill-opacity="1"/>
<path d="M202.94,543.32 L202.80,545.97 L202.57,548.61 L202.25,551.24 L201.84,553.86 L201.35,556.47 L200.77,559.05 L200.11,561.62 L199.36,564.17 L198.53,566.70 L197.62,569.19 L196.62,571.66 L195.54,574.09 L194.38,576.49 L193.15,578.85 L191.83,581.18 L190.44,583.46 L188.98,585.69 L187.44,587.88 L185.83,590.02 L184.15,592.11 L177.34,586.77 L178.84,584.90 L180.29,582.98 L181.67,581.01 L182.98,579.01 L184.23,576.96 L185.41,574.88 L186.51,572.76 L187.55,570.61 L188.52,568.43 L189.41,566.22 L190.23,563.98 L190.98,561.71 L191.65,559.43 L192.25,557.12 L192.76,554.80 L193.21,552.46 L193.57,550.11 L193.85,547.75 L194.06,545.38 L194.19,543.01 Z" fill="#f0bc8a" stroke="#888" stroke-width="0.3" fill-opacity="1"/>
<path d="M183.02,593.44 L181.17,595.50 L179.25,597.50 L177.27,599.43 L175.22,601.30 L173.11,603.11 L170.94,604.84 L168.71,606.51 L166.43,608.10 L164.09,609.62 L161.70,611.06 L159.26,612.43 L156.78,613.71 L154.26,614.92 L151.69,616.04 L149.09,617.08 L146.46,618.04 L143.79,618.91 L141.10,619.70 L138.38,620.39 L135.64,621.00 L132.88,621.53 L130.10,621.96 L127.31,622.30 L124.51,622.56 L121.70,622.72 L118.89,622.80 L118.80,614.30 L121.32,614.23 L123.84,614.08 L126.35,613.85 L128.85,613.55 L131.35,613.16 L133.82,612.69 L136.28,612.14 L138.72,611.51 L141.14,610.81 L143.53,610.03 L145.89,609.17 L148.22,608.24 L150.52,607.23 L152.79,606.15 L155.01,605.00 L157.20,603.77 L159.34,602.48 L161.44,601.12 L163.49,599.69 L165.49,598.19 L167.43,596.64 L169.33,595.02 L171.16,593.34 L172.94,591.60 L174.66,589.81 L176.32,587.97 Z" fill="#e89494" stroke="#888" stroke-width="0.3" fill-opacity="1"/>
<path d="M93.01,461.45 L95.31,460.79 L97.64,460.20 L99.98,459.68 L102.33,459.21 L104.70,458.82 L107.08,458.48 L109.47,458.22 L111.86,458.02 L114.26,457.88 L116.66,457.81 L116.73,461.93 L114.45,462.00 L112.17,462.13 L109.90,462.32 L107.63,462.57 L105.37,462.89 L103.12,463.27 L100.88,463.71 L98.66,464.21 L96.45,464.77 L94.26,465.39 Z" fill="#c8372c" fill-opacity="1"/>
<path d="M69.12,472.80 L71.11,471.49 L73.13,470.23 L75.19,469.03 L77.29,467.88 L79.41,466.79 L81.57,465.76 L83.75,464.79 L85.97,463.88 L88.20,463.03 L90.47,462.25 L91.84,466.15 L89.69,466.90 L87.57,467.70 L85.47,468.57 L83.39,469.49 L81.34,470.47 L79.32,471.50 L77.33,472.59 L75.38,473.73 L73.45,474.93 L71.57,476.18 Z" fill="#c8372c" fill-opacity="1"/>
<path d="M50.03,490.77 L51.50,488.92 L53.02,487.12 L54.60,485.35 L56.22,483.64 L57.90,481.96 L59.62,480.34 L61.39,478.76 L63.20,477.23 L65.06,475.75 L66.96,474.33 L69.52,477.62 L67.71,478.98 L65.94,480.38 L64.22,481.84 L62.54,483.34 L60.90,484.88 L59.31,486.47 L57.77,488.10 L56.27,489.77 L54.82,491.49 L53.43,493.24 Z" fill="#c8372c" fill-opacity="1"/>
<path d="M37.58,513.58 L38.39,511.38 L39.27,509.21 L40.20,507.06 L41.20,504.94 L42.26,502.85 L43.39,500.78 L44.57,498.75 L45.81,496.75 L47.10,494.79 L48.46,492.86 L51.93,495.23 L50.65,497.06 L49.42,498.93 L48.24,500.83 L47.12,502.76 L46.05,504.72 L45.04,506.71 L44.09,508.72 L43.20,510.76 L42.37,512.83 L41.60,514.91 Z" fill="#c8372c" fill-opacity="1"/>
<path d="M33.01,539.00 L33.08,536.67 L33.22,534.34 L33.43,532.02 L33.70,529.70 L34.05,527.39 L34.46,525.10 L34.93,522.81 L35.47,520.54 L36.08,518.28 L36.76,516.04 L40.82,517.25 L40.18,519.38 L39.60,521.53 L39.09,523.68 L38.63,525.86 L38.24,528.04 L37.92,530.23 L37.66,532.43 L37.46,534.64 L37.33,536.85 L37.26,539.07 Z" fill="#c8372c" fill-opacity="1"/>
<path d="M36.76,564.56 L36.08,562.32 L35.47,560.06 L34.93,557.79 L34.46,555.50 L34.05,553.21 L33.70,550.90 L33.43,548.58 L33.22,546.26 L33.08,543.93 L33.01,541.60 L37.26,541.53 L37.33,543.75 L37.46,545.96 L37.66,548.17 L37.92,550.37 L38.24,552.56 L38.63,554.74 L39.09,556.92 L39.60,559.07 L40.18,561.22 L40.82,563.35 Z" fill="#c8372c" fill-opacity="1"/>
<path d="M48.46,587.74 L47.10,585.81 L45.81,583.85 L44.57,581.85 L43.39,579.82 L42.26,577.75 L41.20,575.66 L40.20,573.54 L39.27,571.39 L38.39,569.22 L37.58,567.02 L41.60,565.69 L42.37,567.77 L43.20,569.84 L44.09,571.88 L45.04,573.89 L46.05,575.88 L47.12,577.84 L48.24,579.77 L49.42,581.67 L50.65,583.54 L51.93,585.37 Z" fill="#c8372c" fill-opacity="1"/>
<path d="M66.96,606.27 L65.06,604.85 L63.20,603.37 L61.39,601.84 L59.62,600.26 L57.90,598.64 L56.22,596.96 L54.60,595.25 L53.02,593.48 L51.50,591.68 L50.03,589.83 L53.43,587.36 L54.82,589.11 L56.27,590.83 L57.77,592.50 L59.31,594.13 L60.90,595.72 L62.54,597.26 L64.22,598.76 L65.94,600.22 L67.71,601.62 L69.52,602.98 Z" fill="#c8372c" fill-opacity="1"/>
<path d="M90.47,618.35 L88.20,617.57 L85.97,616.72 L83.75,615.81 L81.57,614.84 L79.41,613.81 L77.29,612.72 L75.19,611.57 L73.13,610.37 L71.11,609.11 L69.12,607.80 L71.57,604.42 L73.45,605.67 L75.38,606.87 L77.33,608.01 L79.32,609.10 L81.34,610.13 L83.39,611.11 L85.47,612.03 L87.57,612.90 L89.69,613.70 L91.84,614.45 Z" fill="#c8372c" fill-opacity="1"/>
<path d="M116.66,622.79 L114.26,622.72 L111.86,622.58 L109.47,622.38 L107.08,622.12 L104.70,621.78 L102.33,621.39 L99.98,620.92 L97.64,620.40 L95.31,619.81 L93.01,619.15 L94.26,615.21 L96.45,615.83 L98.66,616.39 L100.88,616.89 L103.12,617.33 L105.37,617.71 L107.63,618.03 L109.90,618.28 L112.17,618.47 L114.45,618.60 L116.73,618.67 Z" fill="#c8372c" fill-opacity="1"/>
<text transform="translate(100.60,453.88) rotate(90.00)" font-family='"Liberation Sans", sans-serif' font-size="6.0" font-weight="normal" fill="#2a2a2a" text-anchor="end" dominant-baseline="central">FADS1</text>
<text transform="translate(73.88,461.72) rotate(71.00)" font-family='"Liberation Sans", sans-serif' font-size="6.0" font-weight="normal" fill="#2a2a2a" text-anchor="end" dominant-baseline="central">TECR</text>
<text transform="translate(53.04,481.31) rotate(53.60)" font-family='"Liberation Sans", sans-serif' font-size="6.0" font-weight="normal" fill="#2a2a2a" text-anchor="end" dominant-baseline="central">HACD3</text>
<text transform="translate(39.88,505.75) rotate(34.00)" font-family='"Liberation Sans", sans-serif' font-size="6.0" font-weight="normal" fill="#2a2a2a" text-anchor="end" dominant-baseline="central">HSD17B12</text>
<text transform="translate(28.95,528.44) rotate(13.70)" font-family='"Liberation Sans", sans-serif' font-size="6.0" font-weight="normal" fill="#2a2a2a" text-anchor="end" dominant-baseline="central">ELOVL2</text>
<text transform="translate(27.74,556.08) rotate(-14.00)" font-family='"Liberation Sans", sans-serif' font-size="6.0" font-weight="normal" fill="#2a2a2a" text-anchor="end" dominant-baseline="central">HACD1</text>
<text transform="translate(37.45,581.86) rotate(-30.00)" font-family='"Liberation Sans", sans-serif' font-size="6.0" font-weight="normal" fill="#2a2a2a" text-anchor="end" dominant-baseline="central">HACD2</text>
<text transform="translate(53.95,602.69) rotate(-55.00)" font-family='"Liberation Sans", sans-serif' font-size="6.0" font-weight="normal" fill="#2a2a2a" text-anchor="end" dominant-baseline="central">HACD4</text>
<text transform="translate(76.01,622.39) rotate(-73.00)" font-family='"Liberation Sans", sans-serif' font-size="6.0" font-weight="normal" fill="#2a2a2a" text-anchor="end" dominant-baseline="central">SCD</text>
<text transform="translate(103.33,628.78) rotate(-90.00)" font-family='"Liberation Sans", sans-serif' font-size="6.0" font-weight="normal" fill="#2a2a2a" text-anchor="end" dominant-baseline="central">SC5D</text>
<text transform="translate(204.50,505.60) scale(0.877,1)" font-family='"Liberation Serif", serif' font-size="8.5" font-weight="normal" fill="#222" text-anchor="start">KEGG_terms</text>
<rect x="207.3" y="516.9" width="8.5" height="9.4" fill="#80c4ec" stroke="#555" stroke-width="0.35"/>
<text transform="translate(220.00,523.90) scale(0.835,1)" font-family='"Liberation Sans", sans-serif' font-size="4.9" font-weight="normal" fill="#2a2a2a" text-anchor="start">Biosynthesis of unsaturated fatty acids</text>
<rect x="207.3" y="533.7" width="8.5" height="9.4" fill="#f8b460" stroke="#555" stroke-width="0.35"/>
<text transform="translate(220.00,540.70) scale(0.835,1)" font-family='"Liberation Sans", sans-serif' font-size="4.9" font-weight="normal" fill="#2a2a2a" text-anchor="start">Fatty acid elongation</text>
<rect x="207.3" y="551.8" width="8.5" height="9.4" fill="#5cc0a0" stroke="#555" stroke-width="0.35"/>
<text transform="translate(220.00,558.80) scale(0.835,1)" font-family='"Liberation Sans", sans-serif' font-size="4.9" font-weight="normal" fill="#2a2a2a" text-anchor="start">Fatty acid metabolism</text>
<rect x="207.3" y="568.2" width="8.5" height="9.4" fill="#f06464" stroke="#555" stroke-width="0.35"/>
<text transform="translate(220.00,575.20) scale(0.835,1)" font-family='"Liberation Sans", sans-serif' font-size="4.9" font-weight="normal" fill="#2a2a2a" text-anchor="start">Metabolic pathways</text>
<text transform="translate(310.80,15.60)" font-family='"Liberation Serif", serif' font-size="7.8" font-weight="normal" fill="#222" text-anchor="start">D</text>
<text transform="translate(344.00,24.40) scale(0.792,1)" font-family='"Liberation Serif", serif' font-size="7.4" font-weight="bold" fill="#141414" text-anchor="middle">CRC</text>
<text transform="translate(344.00,33.60) scale(0.761,1)" font-family='"Liberation Serif", serif' font-size="7.4" font-weight="bold" fill="#141414" text-anchor="middle">Medication</text>
<text transform="translate(406.50,25.10) scale(0.730,1)" font-family='"Liberation Serif", serif' font-size="7.4" font-weight="bold" fill="#141414" text-anchor="middle">Drug</text>
<text transform="translate(406.50,34.30) scale(0.744,1)" font-family='"Liberation Serif", serif' font-size="7.4" font-weight="bold" fill="#141414" text-anchor="middle">Target</text>
<text transform="translate(462.30,24.40) scale(0.758,1)" font-family='"Liberation Serif", serif' font-size="7.4" font-weight="bold" fill="#141414" text-anchor="middle">Potential</text>
<text transform="translate(462.30,33.90) scale(0.739,1)" font-family='"Liberation Serif", serif' font-size="7.4" font-weight="bold" fill="#141414" text-anchor="middle">Target</text>
<text transform="translate(378.20,34.80) scale(0.730,1)" font-family='"Liberation Serif", serif' font-size="5.4" font-weight="normal" fill="#333" text-anchor="middle">Known</text>
<text transform="translate(377.80,41.00) scale(0.748,1)" font-family='"Liberation Serif", serif' font-size="5.4" font-weight="normal" fill="#333" text-anchor="middle">pharmacological</text>
<text transform="translate(378.00,47.80) scale(0.758,1)" font-family='"Liberation Serif", serif' font-size="5.4" font-weight="normal" fill="#333" text-anchor="middle">action</text>
<text transform="translate(434.80,40.80) scale(0.765,1)" font-family='"Liberation Serif", serif' font-size="5.4" font-weight="normal" fill="#333" text-anchor="middle">Protein-protein</text>
<text transform="translate(434.90,47.50) scale(0.771,1)" font-family='"Liberation Serif", serif' font-size="5.4" font-weight="normal" fill="#333" text-anchor="middle">interaction</text>
<rect x="323.6" y="38.4" width="39.6" height="20.4" rx="2.5" fill="#f4fafb" stroke="#a6d0da" stroke-width="0.8"/>
<path d="M343.5,40.3 L338.5,40.3 A7.6,7.6 0 0 0 338.5,55.5 L343.5,55.5 Z" fill="#1f62d8" stroke="#2050a8" stroke-width="0.5"/>
<path d="M343.5,40.3 L348.5,40.3 A7.6,7.6 0 0 1 348.5,55.5 L343.5,55.5 Z" fill="#eef0f6" stroke="#5a5e68" stroke-width="0.7"/>
<line x1="363.4" y1="49.85" x2="390.5" y2="49.85" stroke="#3a6878" stroke-width="0.8"/>
<path d="M389.7,48.45 L392.5,49.85 L389.7,51.25 Z" fill="#1d4560"/>
<rect x="392.5" y="38.1" width="28.69999999999999" height="21.299999999999997" rx="2.6" fill="#f9d2cc" stroke="#eab0a6" stroke-width="0.7"/>
<g stroke-width="0.9" stroke-linecap="round" fill="none"><line x1="407.8" y1="48.2" x2="405.9" y2="48.8" stroke="#f0b030"/><line x1="411.3" y1="44.0" x2="409.9" y2="42.6" stroke="#2ab0b0"/><line x1="404.2" y1="42.5" x2="402.3" y2="42.0" stroke="#2cc08a"/><line x1="408.3" y1="51.2" x2="410.0" y2="50.8" stroke="#40a0e0"/><line x1="402.2" y1="50.8" x2="402.6" y2="50.1" stroke="#f08a30"/><line x1="412.3" y1="41.6" x2="412.5" y2="40.3" stroke="#2cc08a"/><line x1="402.7" y1="50.5" x2="401.8" y2="49.3" stroke="#e85a40"/><line x1="406.4" y1="51.6" x2="405.1" y2="52.5" stroke="#5a50c8"/><line x1="399.2" y1="55.9" x2="398.7" y2="56.9" stroke="#a890e0"/><line x1="401.0" y1="45.6" x2="399.4" y2="46.8" stroke="#2cc08a"/><line x1="413.4" y1="47.2" x2="413.9" y2="49.2" stroke="#f08a30"/><line x1="405.3" y1="41.8" x2="403.9" y2="42.6" stroke="#2ab0b0"/><line x1="409.4" y1="44.2" x2="410.5" y2="44.8" stroke="#46b860"/><line x1="408.6" y1="56.4" x2="409.8" y2="57.8" stroke="#3a8ce0"/><line x1="406.5" y1="41.2" x2="407.2" y2="42.6" stroke="#2ab0b0"/><line x1="402.7" y1="48.2" x2="401.5" y2="48.8" stroke="#e85a40"/><line x1="413.9" y1="47.3" x2="413.6" y2="49.5" stroke="#f08a30"/><line x1="404.3" y1="53.9" x2="404.6" y2="55.2" stroke="#3a8ce0"/><line x1="407.0" y1="54.7" x2="408.0" y2="54.9" stroke="#3a8ce0"/><line x1="400.1" y1="48.1" x2="399.6" y2="49.1" stroke="#46b860"/><line x1="401.3" y1="42.2" x2="402.6" y2="42.3" stroke="#3cc4a8"/><line x1="401.8" y1="51.0" x2="400.2" y2="51.1" stroke="#46b860"/><line x1="400.6" y1="54.9" x2="400.1" y2="55.9" stroke="#a890e0"/><line x1="410.2" y1="50.8" x2="410.0" y2="48.7" stroke="#e85a40"/><line x1="413.3" y1="44.1" x2="412.2" y2="43.3" stroke="#2ab0b0"/><line x1="400.5" y1="42.7" x2="400.7" y2="44.4" stroke="#46b860"/><line x1="411.5" y1="45.1" x2="411.3" y2="46.1" stroke="#2ab0b0"/><line x1="401.0" y1="52.5" x2="399.3" y2="52.8" stroke="#2a68d8"/><line x1="401.0" y1="50.9" x2="402.0" y2="50.3" stroke="#e85a40"/><line x1="403.8" y1="41.3" x2="403.8" y2="42.1" stroke="#2ab0b0"/><line x1="407.4" y1="45.5" x2="408.3" y2="46.1" stroke="#3cc4a8"/><line x1="404.6" y1="48.2" x2="403.8" y2="47.7" stroke="#46b860"/><line x1="400.3" y1="41.6" x2="399.6" y2="39.5" stroke="#46b860"/><line x1="408.9" y1="41.3" x2="410.0" y2="41.8" stroke="#2ab0b0"/><line x1="401.0" y1="43.2" x2="399.3" y2="42.7" stroke="#2ab0b0"/><line x1="408.3" y1="55.4" x2="408.9" y2="53.4" stroke="#2a68d8"/><line x1="409.6" y1="46.6" x2="410.5" y2="45.6" stroke="#2cc08a"/><line x1="412.1" y1="53.6" x2="413.8" y2="53.8" stroke="#e07040"/><line x1="400.2" y1="47.1" x2="401.7" y2="47.9" stroke="#f08a30"/><line x1="410.3" y1="56.9" x2="408.9" y2="58.1" stroke="#5a50c8"/><line x1="406.2" y1="50.3" x2="407.8" y2="51.2" stroke="#46b860"/><line x1="408.4" y1="41.5" x2="410.5" y2="41.8" stroke="#2ab0b0"/><line x1="410.9" y1="42.8" x2="410.9" y2="43.6" stroke="#2ab0b0"/><line x1="409.5" y1="45.8" x2="407.7" y2="45.6" stroke="#3cc4a8"/><line x1="413.0" y1="46.5" x2="414.0" y2="45.7" stroke="#2ab0b0"/><line x1="402.8" y1="51.7" x2="403.4" y2="49.9" stroke="#40a0e0"/><line x1="403.0" y1="44.2" x2="401.9" y2="43.6" stroke="#3cc4a8"/><line x1="407.0" y1="43.2" x2="406.4" y2="41.1" stroke="#2cc08a"/><line x1="402.4" y1="45.4" x2="400.3" y2="45.8" stroke="#2ab0b0"/><line x1="403.4" y1="54.3" x2="402.1" y2="54.3" stroke="#e07040"/><line x1="411.7" y1="54.4" x2="410.9" y2="56.2" stroke="#40a0e0"/><line x1="408.5" y1="45.4" x2="407.4" y2="44.9" stroke="#46b860"/><line x1="400.3" y1="53.7" x2="399.4" y2="54.3" stroke="#a890e0"/><line x1="403.7" y1="53.3" x2="404.4" y2="51.2" stroke="#2a68d8"/><line x1="401.5" y1="42.8" x2="403.2" y2="42.4" stroke="#46b860"/><line x1="406.7" y1="44.2" x2="406.2" y2="42.4" stroke="#3cc4a8"/><line x1="400.5" y1="49.6" x2="400.3" y2="50.8" stroke="#e85a40"/><line x1="407.3" y1="52.2" x2="408.3" y2="52.1" stroke="#e07040"/><line x1="407.8" y1="54.6" x2="409.6" y2="55.7" stroke="#2a68d8"/><line x1="401.8" y1="52.6" x2="402.5" y2="54.5" stroke="#40a0e0"/><line x1="407.7" y1="41.1" x2="406.0" y2="41.5" stroke="#46b860"/><line x1="410.1" y1="44.3" x2="410.6" y2="46.3" stroke="#2cc08a"/><line x1="411.7" y1="56.7" x2="413.8" y2="56.4" stroke="#e07040"/><line x1="410.1" y1="45.2" x2="409.5" y2="45.9" stroke="#2cc08a"/><line x1="407.7" y1="48.1" x2="406.9" y2="48.1" stroke="#3cc4a8"/><line x1="400.9" y1="53.9" x2="401.5" y2="55.1" stroke="#a890e0"/><line x1="402.0" y1="53.6" x2="404.0" y2="53.6" stroke="#2a68d8"/><line x1="409.5" y1="49.3" x2="410.9" y2="48.8" stroke="#f0b030"/><line x1="399.2" y1="56.2" x2="397.7" y2="56.8" stroke="#a890e0"/><line x1="405.9" y1="54.3" x2="403.9" y2="54.0" stroke="#2a68d8"/><line x1="404.4" y1="50.0" x2="406.3" y2="49.4" stroke="#f0b030"/><line x1="404.3" y1="50.8" x2="405.8" y2="50.4" stroke="#e85a40"/><line x1="402.8" y1="50.2" x2="403.4" y2="50.7" stroke="#46b860"/><line x1="407.5" y1="47.0" x2="406.2" y2="46.9" stroke="#f08a30"/><line x1="407.9" y1="53.8" x2="408.7" y2="54.4" stroke="#40a0e0"/><line x1="404.4" y1="55.9" x2="404.3" y2="57.3" stroke="#40a0e0"/><line x1="406.1" y1="43.0" x2="405.1" y2="42.9" stroke="#2ab0b0"/><line x1="400.4" y1="47.7" x2="401.7" y2="49.1" stroke="#3cc4a8"/><line x1="402.7" y1="41.4" x2="403.9" y2="41.5" stroke="#3cc4a8"/><line x1="403.4" y1="52.6" x2="404.9" y2="53.7" stroke="#40a0e0"/><line x1="407.1" y1="43.0" x2="406.8" y2="41.2" stroke="#46b860"/><line x1="398.3" y1="55.1" x2="399.1" y2="53.6" stroke="#a890e0"/><line x1="412.1" y1="49.6" x2="411.1" y2="48.4" stroke="#46b860"/><line x1="406.6" y1="54.6" x2="406.8" y2="56.4" stroke="#2a68d8"/><line x1="412.6" y1="54.0" x2="411.0" y2="52.7" stroke="#5a50c8"/><line x1="410.9" y1="44.1" x2="411.6" y2="43.5" stroke="#3cc4a8"/><line x1="410.2" y1="44.8" x2="409.1" y2="45.7" stroke="#46b860"/><line x1="405.6" y1="56.1" x2="406.1" y2="57.7" stroke="#2a68d8"/><line x1="401.3" y1="53.8" x2="400.5" y2="51.9" stroke="#e07040"/><line x1="399.6" y1="56.5" x2="398.8" y2="55.5" stroke="#a890e0"/><line x1="409.7" y1="57.0" x2="408.8" y2="57.1" stroke="#3a8ce0"/><line x1="408.6" y1="53.2" x2="407.5" y2="53.3" stroke="#e07040"/><line x1="402.4" y1="42.8" x2="404.5" y2="42.7" stroke="#3cc4a8"/><line x1="400.9" y1="42.5" x2="401.7" y2="43.0" stroke="#2ab0b0"/><line x1="406.0" y1="47.3" x2="404.5" y2="48.0" stroke="#3cc4a8"/><line x1="409.8" y1="41.2" x2="410.4" y2="42.5" stroke="#3cc4a8"/><line x1="405.7" y1="52.8" x2="404.9" y2="52.3" stroke="#2a68d8"/><line x1="404.5" y1="53.7" x2="405.1" y2="52.0" stroke="#3a8ce0"/><line x1="406.8" y1="54.8" x2="405.8" y2="54.3" stroke="#40a0e0"/><line x1="404.8" y1="50.4" x2="404.6" y2="51.3" stroke="#3cc4a8"/><line x1="402.2" y1="52.9" x2="403.1" y2="53.8" stroke="#40a0e0"/><line x1="405.2" y1="49.6" x2="405.3" y2="48.3" stroke="#f0b030"/><line x1="401.0" y1="52.6" x2="400.7" y2="53.5" stroke="#5a50c8"/><line x1="411.9" y1="55.2" x2="413.0" y2="55.6" stroke="#e07040"/><line x1="402.2" y1="56.4" x2="401.3" y2="55.0" stroke="#2a68d8"/><line x1="405.5" y1="49.5" x2="404.3" y2="48.1" stroke="#f0b030"/><line x1="413.7" y1="53.2" x2="414.4" y2="53.8" stroke="#3a8ce0"/><line x1="406.2" y1="44.8" x2="406.3" y2="43.1" stroke="#2cc08a"/><line x1="403.6" y1="41.2" x2="404.9" y2="40.3" stroke="#46b860"/><line x1="413.5" y1="49.1" x2="414.1" y2="48.4" stroke="#46b860"/><line x1="409.0" y1="48.1" x2="407.5" y2="47.0" stroke="#46b860"/><line x1="413.0" y1="41.7" x2="411.4" y2="43.1" stroke="#3cc4a8"/><line x1="405.6" y1="54.7" x2="407.6" y2="55.5" stroke="#e07040"/><line x1="407.4" y1="47.7" x2="406.8" y2="49.2" stroke="#46b860"/><line x1="403.8" y1="48.7" x2="402.8" y2="47.2" stroke="#3cc4a8"/><line x1="410.8" y1="41.4" x2="409.9" y2="40.4" stroke="#2cc08a"/><line x1="400.7" y1="51.9" x2="400.7" y2="51.1" stroke="#5a50c8"/><line x1="411.2" y1="56.8" x2="411.5" y2="55.8" stroke="#3a8ce0"/><line x1="403.5" y1="52.5" x2="404.4" y2="52.8" stroke="#2a68d8"/><line x1="412.7" y1="54.0" x2="414.7" y2="53.7" stroke="#2a68d8"/></g>
<line x1="421.2" y1="49.85" x2="447.6" y2="49.85" stroke="#3a6878" stroke-width="0.8"/>
<path d="M446.8,48.45 L449.6,49.85 L446.8,51.25 Z" fill="#1d4560"/>
<rect x="449.6" y="38.1" width="26.19999999999999" height="21.1" rx="2.6" fill="#f8cb98" stroke="#e6ae74" stroke-width="0.7"/>
<g stroke-width="0.9" stroke-linecap="round" fill="none"><line x1="464.7" y1="44.9" x2="465.5" y2="43.9" stroke="#2ab0a0"/><line x1="455.2" y1="51.3" x2="454.6" y2="50.1" stroke="#8a80d8"/><line x1="457.5" y1="53.2" x2="456.4" y2="54.5" stroke="#b0a0e0"/><line x1="469.1" y1="43.5" x2="469.0" y2="42.4" stroke="#f0b040"/><line x1="454.4" y1="56.0" x2="453.5" y2="55.2" stroke="#e0d040"/><line x1="457.7" y1="54.2" x2="457.4" y2="53.2" stroke="#e0d040"/><line x1="457.9" y1="50.2" x2="456.3" y2="50.1" stroke="#8a80d8"/><line x1="456.1" y1="54.1" x2="457.2" y2="54.2" stroke="#5a5ae0"/><line x1="452.6" y1="48.3" x2="451.7" y2="48.1" stroke="#8a80d8"/><line x1="453.8" y1="54.1" x2="454.0" y2="56.1" stroke="#e0d040"/><line x1="462.2" y1="48.0" x2="462.6" y2="47.2" stroke="#2ab0a0"/><line x1="454.5" y1="55.3" x2="455.4" y2="53.8" stroke="#e0d040"/><line x1="461.3" y1="51.3" x2="462.4" y2="52.8" stroke="#40c060"/><line x1="464.5" y1="44.4" x2="463.3" y2="43.7" stroke="#40c060"/><line x1="458.8" y1="52.9" x2="457.5" y2="52.4" stroke="#b0a0e0"/><line x1="466.4" y1="49.1" x2="467.7" y2="48.2" stroke="#2ab0a0"/><line x1="466.6" y1="50.1" x2="466.9" y2="51.6" stroke="#2ab0a0"/><line x1="458.9" y1="56.2" x2="458.5" y2="54.7" stroke="#3a4ad0"/><line x1="471.3" y1="52.3" x2="469.7" y2="53.0" stroke="#f0b040"/><line x1="458.4" y1="50.9" x2="460.0" y2="50.5" stroke="#b0a0e0"/><line x1="462.8" y1="45.4" x2="461.3" y2="44.5" stroke="#30a0c0"/><line x1="467.5" y1="53.2" x2="468.3" y2="54.8" stroke="#2ab0a0"/><line x1="470.5" y1="45.1" x2="470.7" y2="46.0" stroke="#f09040"/><line x1="455.3" y1="50.7" x2="454.3" y2="49.2" stroke="#5a5ae0"/><line x1="453.3" y1="52.9" x2="454.1" y2="53.4" stroke="#e0d040"/><line x1="467.5" y1="52.1" x2="468.9" y2="53.1" stroke="#2ab0a0"/><line x1="460.9" y1="52.6" x2="461.0" y2="51.3" stroke="#40c060"/><line x1="459.1" y1="56.7" x2="457.7" y2="56.8" stroke="#8a80d8"/><line x1="467.1" y1="51.9" x2="468.2" y2="50.5" stroke="#40c060"/><line x1="469.5" y1="51.8" x2="468.6" y2="50.7" stroke="#e87030"/><line x1="466.9" y1="52.3" x2="466.9" y2="53.3" stroke="#2ab0a0"/><line x1="465.3" y1="46.3" x2="464.2" y2="46.1" stroke="#30a0c0"/><line x1="470.6" y1="47.2" x2="471.8" y2="48.2" stroke="#e87030"/><line x1="468.3" y1="44.0" x2="468.3" y2="43.2" stroke="#f09040"/><line x1="462.1" y1="47.7" x2="461.1" y2="48.9" stroke="#2ab0a0"/><line x1="464.6" y1="44.6" x2="463.1" y2="45.7" stroke="#40c060"/><line x1="471.7" y1="48.9" x2="470.6" y2="49.0" stroke="#e87030"/><line x1="470.6" y1="52.1" x2="469.7" y2="50.6" stroke="#f0b040"/><line x1="453.9" y1="55.8" x2="455.8" y2="56.4" stroke="#b0a0e0"/><line x1="468.8" y1="46.2" x2="469.3" y2="44.6" stroke="#e87030"/><line x1="468.5" y1="42.6" x2="470.0" y2="41.5" stroke="#f09040"/><line x1="471.0" y1="47.0" x2="470.7" y2="45.5" stroke="#f09040"/><line x1="455.3" y1="49.4" x2="456.5" y2="50.9" stroke="#3a4ad0"/><line x1="469.0" y1="43.4" x2="470.1" y2="43.4" stroke="#e87030"/><line x1="463.2" y1="44.2" x2="463.6" y2="43.4" stroke="#2ab0a0"/><line x1="457.7" y1="54.4" x2="458.9" y2="53.4" stroke="#5a5ae0"/><line x1="453.7" y1="54.7" x2="454.5" y2="53.8" stroke="#e0d040"/><line x1="468.6" y1="46.6" x2="470.1" y2="47.6" stroke="#e87030"/><line x1="456.4" y1="52.9" x2="454.4" y2="53.0" stroke="#e0d040"/><line x1="472.2" y1="45.5" x2="473.3" y2="46.0" stroke="#f0b040"/><line x1="461.8" y1="48.5" x2="462.8" y2="49.3" stroke="#2ab0a0"/><line x1="461.7" y1="50.0" x2="462.8" y2="48.7" stroke="#3cc08a"/><line x1="462.0" y1="48.8" x2="463.1" y2="47.3" stroke="#3cc08a"/><line x1="467.1" y1="51.5" x2="468.7" y2="50.9" stroke="#30a0c0"/><line x1="472.0" y1="50.3" x2="471.5" y2="49.3" stroke="#e87030"/></g>
<line x1="420.6" y1="72.8" x2="449.5" y2="72.8" stroke="#cfe07a" stroke-width="1.25"/>
<line x1="420.6" y1="75.0" x2="449.5" y2="75.0" stroke="#3c3c3c" stroke-width="1.25"/>
<line x1="420.6" y1="89.0" x2="449.5" y2="89.0" stroke="#cfe07a" stroke-width="1.25"/>
<line x1="420.6" y1="91.2" x2="449.5" y2="91.2" stroke="#3c3c3c" stroke-width="1.25"/>
<line x1="420.6" y1="106.5" x2="449.5" y2="106.5" stroke="#cfe07a" stroke-width="1.25"/>
<line x1="420.6" y1="108.8" x2="449.5" y2="108.8" stroke="#5cc4e4" stroke-width="1.25"/>
<line x1="420.6" y1="111.1" x2="449.5" y2="111.1" stroke="#ea66e2" stroke-width="1.25"/>
<line x1="420.6" y1="126.4" x2="449.5" y2="126.4" stroke="#5cc4e4" stroke-width="1.25"/>
<line x1="420.6" y1="219.1" x2="449.5" y2="219.1" stroke="#cfe07a" stroke-width="1.25"/>
<line x1="420.6" y1="221.4" x2="449.5" y2="221.4" stroke="#3c3c3c" stroke-width="1.25"/>
<line x1="420.6" y1="224.4" x2="449.5" y2="224.4" stroke="#ea66e2" stroke-width="1.25"/>
<line x1="420.6" y1="322.7" x2="449.5" y2="322.7" stroke="#ea66e2" stroke-width="1.25"/>
<line x1="420.6" y1="337.9" x2="449.5" y2="337.9" stroke="#cfe07a" stroke-width="1.25"/>
<line x1="420.6" y1="340.4" x2="449.5" y2="340.4" stroke="#3c3c3c" stroke-width="1.25"/>
<line x1="420.6" y1="360.5" x2="449.5" y2="360.5" stroke="#cfe07a" stroke-width="1.25"/>
<line x1="420.6" y1="363.3" x2="449.5" y2="363.3" stroke="#4a3a56" stroke-width="1.25"/>
<line x1="420.6" y1="366.0" x2="449.5" y2="366.0" stroke="#5cc4e4" stroke-width="1.25"/>
<line x1="420.6" y1="368.8" x2="449.5" y2="368.8" stroke="#6cd88a" stroke-width="1.25"/>
<line x1="420.6" y1="390.1" x2="449.5" y2="390.1" stroke="#cfe07a" stroke-width="1.25"/>
<line x1="420.6" y1="392.6" x2="449.5" y2="392.6" stroke="#3c3c3c" stroke-width="1.25"/>
<line x1="420.6" y1="405.5" x2="449.5" y2="405.5" stroke="#cfe07a" stroke-width="1.25"/>
<line x1="420.6" y1="407.6" x2="449.5" y2="407.6" stroke="#3c3c3c" stroke-width="1.25"/>
<line x1="420.6" y1="409.8" x2="449.5" y2="409.8" stroke="#ea66e2" stroke-width="1.25"/>
<line x1="420.6" y1="423.7" x2="449.5" y2="423.7" stroke="#cfe07a" stroke-width="1.25"/>
<line x1="420.6" y1="426.2" x2="449.5" y2="426.2" stroke="#3c3c3c" stroke-width="1.25"/>
<line x1="420.6" y1="428.6" x2="449.5" y2="428.6" stroke="#ea66e2" stroke-width="1.25"/>
<line x1="420.6" y1="440.8" x2="449.5" y2="440.8" stroke="#cfe07a" stroke-width="1.25"/>
<line x1="420.6" y1="443.6" x2="449.5" y2="443.6" stroke="#666" stroke-width="1.25"/>
<line x1="420.6" y1="458.8" x2="449.5" y2="458.8" stroke="#cfe07a" stroke-width="1.25"/>
<line x1="420.6" y1="461.4" x2="449.5" y2="461.4" stroke="#3c3c3c" stroke-width="1.25"/>
<line x1="420.6" y1="479.2" x2="449.5" y2="479.2" stroke="#cfe07a" stroke-width="1.25"/>
<line x1="420.6" y1="495.7" x2="449.5" y2="495.7" stroke="#cfe07a" stroke-width="1.25"/>
<line x1="420.6" y1="498.1" x2="449.5" y2="498.1" stroke="#3c3c3c" stroke-width="1.25"/>
<line x1="420.6" y1="515.6" x2="449.5" y2="515.6" stroke="#cfe07a" stroke-width="1.25"/>
<line x1="420.6" y1="518.0" x2="449.5" y2="518.0" stroke="#3c3c3c" stroke-width="1.25"/>
<line x1="420.6" y1="532.1" x2="449.5" y2="532.1" stroke="#cfe07a" stroke-width="1.25"/>
<line x1="420.6" y1="534.5" x2="449.5" y2="534.5" stroke="#3c3c3c" stroke-width="1.25"/>
<rect x="392.0" y="65.5" width="28.600000000000023" height="33.0" rx="2.6" fill="#fbd6d2" stroke="#f0aaa2" stroke-width="0.7"/>
<text transform="translate(406.30,84.40) scale(0.720,1)" font-family='"Liberation Serif", serif' font-size="7.2" font-weight="normal" fill="#2e2424" text-anchor="middle">HMGCR</text>
<rect x="392.0" y="101.5" width="28.600000000000023" height="12.599999999999994" rx="2.6" fill="#fbd6d2" stroke="#f0aaa2" stroke-width="0.7"/>
<text transform="translate(406.30,110.20) scale(0.720,1)" font-family='"Liberation Serif", serif' font-size="7.2" font-weight="normal" fill="#2e2424" text-anchor="middle">ALOX5</text>
<rect x="392.0" y="117.5" width="28.600000000000023" height="13.0" rx="2.6" fill="#fbd6d2" stroke="#f0aaa2" stroke-width="0.7"/>
<text transform="translate(406.30,126.40) scale(0.720,1)" font-family='"Liberation Serif", serif' font-size="7.2" font-weight="normal" fill="#2e2424" text-anchor="middle">CREBBP</text>
<rect x="392.0" y="134.6" width="28.600000000000023" height="178.79999999999998" rx="2.6" fill="#fbd6d2" stroke="#f0aaa2" stroke-width="0.7"/>
<text transform="translate(406.30,226.40) scale(0.720,1)" font-family='"Liberation Serif", serif' font-size="7.2" font-weight="normal" fill="#2e2424" text-anchor="middle">EGFR</text>
<rect x="392.0" y="314.9" width="28.600000000000023" height="14.900000000000034" rx="2.6" fill="#fbd6d2" stroke="#f0aaa2" stroke-width="0.7"/>
<text transform="translate(406.30,324.75) scale(0.720,1)" font-family='"Liberation Serif", serif' font-size="7.2" font-weight="normal" fill="#2e2424" text-anchor="middle">INSR</text>
<rect x="392.0" y="332.9" width="28.600000000000023" height="14.200000000000045" rx="2.6" fill="#fbd6d2" stroke="#f0aaa2" stroke-width="0.7"/>
<text transform="translate(406.30,342.40) scale(0.720,1)" font-family='"Liberation Serif", serif' font-size="7.2" font-weight="normal" fill="#2e2424" text-anchor="middle">XPO1</text>
<rect x="392.0" y="351.6" width="28.600000000000023" height="27.399999999999977" rx="2.6" fill="#fbd6d2" stroke="#f0aaa2" stroke-width="0.7"/>
<text transform="translate(406.30,367.70) scale(0.720,1)" font-family='"Liberation Serif", serif' font-size="7.2" font-weight="normal" fill="#2e2424" text-anchor="middle">NDUFAB1</text>
<rect x="392.0" y="384.7" width="28.600000000000023" height="13.699999999999989" rx="2.6" fill="#fbd6d2" stroke="#f0aaa2" stroke-width="0.7"/>
<text transform="translate(406.30,393.95) scale(0.720,1)" font-family='"Liberation Serif", serif' font-size="7.2" font-weight="normal" fill="#2e2424" text-anchor="middle">FEN1</text>
<rect x="392.0" y="401.2" width="28.600000000000023" height="32.60000000000002" rx="2.6" fill="#fbd6d2" stroke="#f0aaa2" stroke-width="0.7"/>
<text transform="translate(406.30,419.90) scale(0.720,1)" font-family='"Liberation Serif", serif' font-size="7.2" font-weight="normal" fill="#2e2424" text-anchor="middle">XPO1</text>
<rect x="392.0" y="436.6" width="28.600000000000023" height="13.5" rx="2.6" fill="#fbd6d2" stroke="#f0aaa2" stroke-width="0.7"/>
<text transform="translate(406.30,445.75) scale(0.720,1)" font-family='"Liberation Serif", serif' font-size="7.2" font-weight="normal" fill="#2e2424" text-anchor="middle">AKT1</text>
<rect x="392.0" y="455.5" width="28.600000000000023" height="13.5" rx="2.6" fill="#fbd6d2" stroke="#f0aaa2" stroke-width="0.7"/>
<text transform="translate(406.30,464.65) scale(0.720,1)" font-family='"Liberation Serif", serif' font-size="7.2" font-weight="normal" fill="#2e2424" text-anchor="middle">HMGCR</text>
<rect x="392.0" y="474.2" width="28.600000000000023" height="13.699999999999989" rx="2.6" fill="#fbd6d2" stroke="#f0aaa2" stroke-width="0.7"/>
<text transform="translate(406.30,483.45) scale(0.720,1)" font-family='"Liberation Serif", serif' font-size="7.2" font-weight="normal" fill="#2e2424" text-anchor="middle">IL1B</text>
<rect x="392.0" y="492.6" width="28.600000000000023" height="13.099999999999966" rx="2.6" fill="#fbd6d2" stroke="#f0aaa2" stroke-width="0.7"/>
<text transform="translate(406.30,501.55) scale(0.720,1)" font-family='"Liberation Serif", serif' font-size="7.2" font-weight="normal" fill="#2e2424" text-anchor="middle">MTOR</text>
<rect x="392.0" y="510.9" width="28.600000000000023" height="13.200000000000045" rx="2.6" fill="#fbd6d2" stroke="#f0aaa2" stroke-width="0.7"/>
<text transform="translate(406.30,519.90) scale(0.720,1)" font-family='"Liberation Serif", serif' font-size="7.2" font-weight="normal" fill="#2e2424" text-anchor="middle">NR1H4</text>
<rect x="392.0" y="528.8" width="28.600000000000023" height="13.5" rx="2.6" fill="#fbd6d2" stroke="#f0aaa2" stroke-width="0.7"/>
<text transform="translate(406.30,537.95) scale(0.720,1)" font-family='"Liberation Serif", serif' font-size="7.2" font-weight="normal" fill="#2e2424" text-anchor="middle">PPARG</text>
<rect x="449.6" y="66.5" width="26.19999999999999" height="13.900000000000006" rx="2.6" fill="#f8cc9c" stroke="#eab080" stroke-width="0.7"/>
<text transform="translate(462.70,75.85) scale(0.720,1)" font-family='"Liberation Serif", serif' font-size="7.2" font-weight="normal" fill="#2e2424" text-anchor="middle">SC5D</text>
<rect x="449.6" y="85.0" width="26.19999999999999" height="47.400000000000006" rx="2.6" fill="#f8cc9c" stroke="#eab080" stroke-width="0.7"/>
<text transform="translate(462.70,111.10) scale(0.720,1)" font-family='"Liberation Serif", serif' font-size="7.2" font-weight="normal" fill="#2e2424" text-anchor="middle">FADS1</text>
<rect x="449.6" y="137.6" width="26.19999999999999" height="172.50000000000003" rx="2.6" fill="#f8cc9c" stroke="#eab080" stroke-width="0.7"/>
<text transform="translate(462.70,226.40) scale(0.720,1)" font-family='"Liberation Serif", serif' font-size="7.2" font-weight="normal" fill="#2e2424" text-anchor="middle">TECR</text>
<rect x="449.6" y="314.9" width="26.19999999999999" height="13.700000000000045" rx="2.6" fill="#f8cc9c" stroke="#eab080" stroke-width="0.7"/>
<text transform="translate(462.70,324.15) scale(0.720,1)" font-family='"Liberation Serif", serif' font-size="7.2" font-weight="normal" fill="#2e2424" text-anchor="middle">HACD3</text>
<rect x="449.6" y="332.9" width="26.19999999999999" height="45.400000000000034" rx="2.6" fill="#f8cc9c" stroke="#eab080" stroke-width="0.7"/>
<text transform="translate(462.70,358.00) scale(0.720,1)" font-family='"Liberation Serif", serif' font-size="7.2" font-weight="normal" fill="#2e2424" text-anchor="middle">HSD17B12</text>
<rect x="449.6" y="384.7" width="26.19999999999999" height="31.400000000000034" rx="2.6" fill="#f8cc9c" stroke="#eab080" stroke-width="0.7"/>
<text transform="translate(462.70,402.80) scale(0.720,1)" font-family='"Liberation Serif", serif' font-size="7.2" font-weight="normal" fill="#2e2424" text-anchor="middle">HACD1</text>
<rect x="449.6" y="422.5" width="26.19999999999999" height="13.0" rx="2.6" fill="#f8cc9c" stroke="#eab080" stroke-width="0.7"/>
<text transform="translate(462.70,431.40) scale(0.720,1)" font-family='"Liberation Serif", serif' font-size="7.2" font-weight="normal" fill="#2e2424" text-anchor="middle">HACD2</text>
<rect x="449.6" y="437.1" width="26.19999999999999" height="104.5" rx="2.6" fill="#f8cc9c" stroke="#eab080" stroke-width="0.7"/>
<text transform="translate(462.70,492.70) scale(0.720,1)" font-family='"Liberation Serif", serif' font-size="7.2" font-weight="normal" fill="#2e2424" text-anchor="middle">SCD</text>
<rect x="324.90000000000003" y="66.2" width="42.39999999999998" height="33.0" fill="#c8d4d8" opacity="0.6"/>
<rect x="324.3" y="65.5" width="42.39999999999998" height="33.0" fill="#fbfdfe" stroke="#8ec4d2" stroke-width="0.6"/>
<line x1="324.3" y1="76.3" x2="366.7" y2="76.3" stroke="#8ec4d2" stroke-width="0.6"/>
<line x1="324.3" y1="87.6" x2="366.7" y2="87.6" stroke="#8ec4d2" stroke-width="0.6"/>
<path d="M321.8,82.15 L321.8,78.65 A1.95,1.95 0 0 1 325.7,78.65 L325.7,82.15 Z" fill="#ffffff" stroke="#9aa0a8" stroke-width="0.4"/>
<path d="M321.8,82.15 L321.8,85.64999999999999 A1.95,1.95 0 0 0 325.7,85.64999999999999 L325.7,82.15 Z" fill="#1f5ee0" stroke="#1a4cb8" stroke-width="0.4"/>
<text transform="translate(325.90,73.10) scale(0.760,1)" font-family='"Liberation Serif", serif' font-size="5.4" font-weight="bold" fill="#141414" text-anchor="start" stroke="#141414" stroke-width="0.12">SIMVASTATIN</text>
<text transform="translate(325.90,84.10) scale(0.760,1)" font-family='"Liberation Serif", serif' font-size="5.4" font-weight="bold" fill="#141414" text-anchor="start" stroke="#141414" stroke-width="0.12">ROSUVASTATIN</text>
<text transform="translate(325.90,95.00) scale(0.760,1)" font-family='"Liberation Serif", serif' font-size="5.4" font-weight="bold" fill="#141414" text-anchor="start" stroke="#141414" stroke-width="0.12">ATORVASTATIN</text>
<line x1="366.7" y1="83.35" x2="389.7" y2="83.35" stroke="#3a6878" stroke-width="0.8"/>
<path d="M388.9,81.94999999999999 L391.7,83.35 L388.9,84.75 Z" fill="#1d4560"/>
<text transform="translate(371.00,80.70) scale(0.740,1)" font-family='"Liberation Serif", serif' font-size="5.5" font-weight="bold" fill="#1e1e1e" text-anchor="start" stroke="#1e1e1e" stroke-width="0.1">inhibitor</text>
<rect x="324.90000000000003" y="105.10000000000001" width="42.39999999999998" height="9.699999999999989" fill="#c8d4d8" opacity="0.6"/>
<rect x="324.3" y="104.4" width="42.39999999999998" height="9.699999999999989" fill="#fbfdfe" stroke="#8ec4d2" stroke-width="0.6"/>
<path d="M321.8,109.7 L321.8,106.35000000000001 A1.95,1.95 0 0 1 325.7,106.35000000000001 L325.7,109.7 Z" fill="#ffffff" stroke="#9aa0a8" stroke-width="0.4"/>
<path d="M321.8,109.7 L321.8,113.05 A1.95,1.95 0 0 0 325.7,113.05 L325.7,109.7 Z" fill="#1f5ee0" stroke="#1a4cb8" stroke-width="0.4"/>
<text transform="translate(325.90,111.30) scale(0.760,1)" font-family='"Liberation Serif", serif' font-size="5.4" font-weight="bold" fill="#141414" text-anchor="start" stroke="#141414" stroke-width="0.12">MESALAMINE</text>
<line x1="366.7" y1="110.55" x2="389.7" y2="110.55" stroke="#3a6878" stroke-width="0.8"/>
<path d="M388.9,109.14999999999999 L391.7,110.55 L388.9,111.95 Z" fill="#1d4560"/>
<text transform="translate(371.00,108.40) scale(0.740,1)" font-family='"Liberation Serif", serif' font-size="5.5" font-weight="bold" fill="#1e1e1e" text-anchor="start" stroke="#1e1e1e" stroke-width="0.1">inhibitor</text>
<rect x="324.90000000000003" y="121.5" width="42.39999999999998" height="7.6000000000000085" fill="#c8d4d8" opacity="0.6"/>
<rect x="324.3" y="120.8" width="42.39999999999998" height="7.6000000000000085" fill="#fbfdfe" stroke="#8ec4d2" stroke-width="0.6"/>
<path d="M321.8,123.75 L321.8,119.95 A1.95,1.95 0 0 1 325.7,119.95 L325.7,123.75 Z" fill="#ffffff" stroke="#9aa0a8" stroke-width="0.4"/>
<path d="M321.8,123.75 L321.8,127.55 A1.95,1.95 0 0 0 325.7,127.55 L325.7,123.75 Z" fill="#1f5ee0" stroke="#1a4cb8" stroke-width="0.4"/>
<text transform="translate(325.90,126.50) scale(0.760,1)" font-family='"Liberation Serif", serif' font-size="5.4" font-weight="bold" fill="#141414" text-anchor="start" stroke="#141414" stroke-width="0.12">PRI-724</text>
<line x1="366.7" y1="126.55" x2="389.7" y2="126.55" stroke="#3a6878" stroke-width="0.8"/>
<path d="M388.9,125.14999999999999 L391.7,126.55 L388.9,127.95 Z" fill="#1d4560"/>
<text transform="translate(369.80,124.20) scale(0.740,1)" font-family='"Liberation Serif", serif' font-size="5.5" font-weight="bold" fill="#1e1e1e" text-anchor="start" stroke="#1e1e1e" stroke-width="0.1">inhibitor</text>
<rect x="324.90000000000003" y="132.2" width="42.39999999999998" height="182.7" fill="#c8d4d8" opacity="0.6"/>
<rect x="324.3" y="131.5" width="42.39999999999998" height="182.7" fill="#fbfdfe" stroke="#8ec4d2" stroke-width="0.6"/>
<line x1="324.3" y1="139.1" x2="366.7" y2="139.1" stroke="#8ec4d2" stroke-width="0.6"/>
<line x1="324.3" y1="146.8" x2="366.7" y2="146.8" stroke="#8ec4d2" stroke-width="0.6"/>
<line x1="324.3" y1="154.8" x2="366.7" y2="154.8" stroke="#8ec4d2" stroke-width="0.6"/>
<line x1="324.3" y1="168.3" x2="366.7" y2="168.3" stroke="#8ec4d2" stroke-width="0.6"/>
<line x1="324.3" y1="176.6" x2="366.7" y2="176.6" stroke="#8ec4d2" stroke-width="0.6"/>
<line x1="324.3" y1="184.3" x2="366.7" y2="184.3" stroke="#8ec4d2" stroke-width="0.6"/>
<line x1="324.3" y1="199.1" x2="366.7" y2="199.1" stroke="#8ec4d2" stroke-width="0.6"/>
<line x1="324.3" y1="206.6" x2="366.7" y2="206.6" stroke="#8ec4d2" stroke-width="0.6"/>
<line x1="324.3" y1="213.9" x2="366.7" y2="213.9" stroke="#8ec4d2" stroke-width="0.6"/>
<line x1="324.3" y1="222.6" x2="366.7" y2="222.6" stroke="#8ec4d2" stroke-width="0.6"/>
<line x1="324.3" y1="229.5" x2="366.7" y2="229.5" stroke="#8ec4d2" stroke-width="0.6"/>
<line x1="324.3" y1="237.2" x2="366.7" y2="237.2" stroke="#8ec4d2" stroke-width="0.6"/>
<line x1="324.3" y1="245.2" x2="366.7" y2="245.2" stroke="#8ec4d2" stroke-width="0.6"/>
<line x1="324.3" y1="252.5" x2="366.7" y2="252.5" stroke="#8ec4d2" stroke-width="0.6"/>
<line x1="324.3" y1="259.7" x2="366.7" y2="259.7" stroke="#8ec4d2" stroke-width="0.6"/>
<line x1="324.3" y1="267.7" x2="366.7" y2="267.7" stroke="#8ec4d2" stroke-width="0.6"/>
<line x1="324.3" y1="275.9" x2="366.7" y2="275.9" stroke="#8ec4d2" stroke-width="0.6"/>
<line x1="324.3" y1="283.2" x2="366.7" y2="283.2" stroke="#8ec4d2" stroke-width="0.6"/>
<line x1="324.3" y1="290.7" x2="366.7" y2="290.7" stroke="#8ec4d2" stroke-width="0.6"/>
<line x1="324.3" y1="298.5" x2="366.7" y2="298.5" stroke="#8ec4d2" stroke-width="0.6"/>
<line x1="324.3" y1="306.2" x2="366.7" y2="306.2" stroke="#8ec4d2" stroke-width="0.6"/>
<path d="M321.8,219.35000000000002 L321.8,215.85 A1.95,1.95 0 0 1 325.7,215.85 L325.7,219.35000000000002 Z" fill="#ffffff" stroke="#9aa0a8" stroke-width="0.4"/>
<path d="M321.8,219.35000000000002 L321.8,222.85000000000002 A1.95,1.95 0 0 0 325.7,222.85000000000002 L325.7,219.35000000000002 Z" fill="#1f5ee0" stroke="#1a4cb8" stroke-width="0.4"/>
<text transform="translate(325.90,137.70) scale(0.760,1)" font-family='"Liberation Serif", serif' font-size="5.4" font-weight="bold" fill="#141414" text-anchor="start" stroke="#141414" stroke-width="0.12">CETUXIMAB</text>
<text transform="translate(325.90,145.00) scale(0.760,1)" font-family='"Liberation Serif", serif' font-size="5.4" font-weight="bold" fill="#141414" text-anchor="start" stroke="#141414" stroke-width="0.12">AFATINIB</text>
<text transform="translate(325.90,153.00) scale(0.760,1)" font-family='"Liberation Serif", serif' font-size="5.4" font-weight="bold" fill="#141414" text-anchor="start" stroke="#141414" stroke-width="0.12">AMIVANTAMAB</text>
<text transform="translate(325.90,160.70) scale(0.760,1)" font-family='"Liberation Serif", serif' font-size="5.4" font-weight="bold" fill="#141414" text-anchor="start" stroke="#141414" stroke-width="0.12">DACOMITINIB</text>
<text transform="translate(325.90,166.80) scale(0.760,1)" font-family='"Liberation Serif", serif' font-size="5.4" font-weight="bold" fill="#141414" text-anchor="start" stroke="#141414" stroke-width="0.12">ANHYDROUS</text>
<text transform="translate(325.90,174.80) scale(0.760,1)" font-family='"Liberation Serif", serif' font-size="5.4" font-weight="bold" fill="#141414" text-anchor="start" stroke="#141414" stroke-width="0.12">DULIGOTUZUMAB</text>
<text transform="translate(325.90,182.50) scale(0.760,1)" font-family='"Liberation Serif", serif' font-size="5.4" font-weight="bold" fill="#141414" text-anchor="start" stroke="#141414" stroke-width="0.12">ERLOTINIB</text>
<text transform="translate(325.90,190.80) scale(0.760,1)" font-family='"Liberation Serif", serif' font-size="5.4" font-weight="bold" fill="#141414" text-anchor="start" stroke="#141414" stroke-width="0.12">ERLOTINIB</text>
<text transform="translate(325.90,197.80) scale(0.760,1)" font-family='"Liberation Serif", serif' font-size="5.4" font-weight="bold" fill="#141414" text-anchor="start" stroke="#141414" stroke-width="0.12">HYDROCHLORIDE</text>
<text transform="translate(325.90,205.30) scale(0.760,1)" font-family='"Liberation Serif", serif' font-size="5.4" font-weight="bold" fill="#141414" text-anchor="start" stroke="#141414" stroke-width="0.12">FUTUXIMAB</text>
<text transform="translate(325.90,212.80) scale(0.760,1)" font-family='"Liberation Serif", serif' font-size="5.4" font-weight="bold" fill="#141414" text-anchor="start" stroke="#141414" stroke-width="0.12">GEFITINIB</text>
<text transform="translate(325.90,220.50) scale(0.760,1)" font-family='"Liberation Serif", serif' font-size="5.4" font-weight="bold" fill="#141414" text-anchor="start" stroke="#141414" stroke-width="0.12">IMGATUZUMAB</text>
<text transform="translate(325.90,228.50) scale(0.760,1)" font-family='"Liberation Serif", serif' font-size="5.4" font-weight="bold" fill="#141414" text-anchor="start" stroke="#141414" stroke-width="0.12">LAPATINIB</text>
<text transform="translate(325.90,235.30) scale(0.760,1)" font-family='"Liberation Serif", serif' font-size="5.4" font-weight="bold" fill="#141414" text-anchor="start" stroke="#141414" stroke-width="0.12">MODOTUXIMAB</text>
<text transform="translate(325.90,243.60) scale(0.760,1)" font-family='"Liberation Serif", serif' font-size="5.4" font-weight="bold" fill="#141414" text-anchor="start" stroke="#141414" stroke-width="0.12">NECITUMUMAB</text>
<text transform="translate(325.90,250.60) scale(0.760,1)" font-family='"Liberation Serif", serif' font-size="5.4" font-weight="bold" fill="#141414" text-anchor="start" stroke="#141414" stroke-width="0.12">NIMOTUZUMAB</text>
<text transform="translate(325.90,258.60) scale(0.760,1)" font-family='"Liberation Serif", serif' font-size="5.4" font-weight="bold" fill="#141414" text-anchor="start" stroke="#141414" stroke-width="0.12">OSIMERTINIB</text>
<text transform="translate(325.90,265.80) scale(0.760,1)" font-family='"Liberation Serif", serif' font-size="5.4" font-weight="bold" fill="#141414" text-anchor="start" stroke="#141414" stroke-width="0.12">PANITUMUMAB</text>
<text transform="translate(325.90,274.20) scale(0.760,1)" font-family='"Liberation Serif", serif' font-size="5.4" font-weight="bold" fill="#141414" text-anchor="start" stroke="#141414" stroke-width="0.12">PELITINIB</text>
<text transform="translate(325.90,281.30) scale(0.760,1)" font-family='"Liberation Serif", serif' font-size="5.4" font-weight="bold" fill="#141414" text-anchor="start" stroke="#141414" stroke-width="0.12">PIMURUTAMAB</text>
<text transform="translate(325.90,288.90) scale(0.760,1)" font-family='"Liberation Serif", serif' font-size="5.4" font-weight="bold" fill="#141414" text-anchor="start" stroke="#141414" stroke-width="0.12">PYROTINIB</text>
<text transform="translate(325.90,296.60) scale(0.760,1)" font-family='"Liberation Serif", serif' font-size="5.4" font-weight="bold" fill="#141414" text-anchor="start" stroke="#141414" stroke-width="0.12">SAPITINIB</text>
<text transform="translate(325.90,304.60) scale(0.760,1)" font-family='"Liberation Serif", serif' font-size="5.4" font-weight="bold" fill="#141414" text-anchor="start" stroke="#141414" stroke-width="0.12">VANDETANIB</text>
<text transform="translate(325.90,312.60) scale(0.760,1)" font-family='"Liberation Serif", serif' font-size="5.4" font-weight="bold" fill="#141414" text-anchor="start" stroke="#141414" stroke-width="0.12">ZALUTUMUMAB</text>
<path d="M366.7,134.5 L370.8,134.5 Q371.8,134.5 371.8,135.5 L371.8,184.4 Q371.8,185.4 370.8,185.4 L366.7,185.4" fill="none" stroke="#7a8a90" stroke-width="0.5"/>
<line x1="371.8" y1="162.85" x2="389.7" y2="162.85" stroke="#3a6878" stroke-width="0.8"/>
<path d="M388.9,161.45 L391.7,162.85 L388.9,164.25 Z" fill="#1d4560"/>
<text transform="translate(374.00,159.10) scale(0.740,1)" font-family='"Liberation Serif", serif' font-size="5.5" font-weight="bold" fill="#1e1e1e" text-anchor="start" stroke="#1e1e1e" stroke-width="0.1">inhibitor</text>
<line x1="366.7" y1="203.85" x2="389.7" y2="203.85" stroke="#3a6878" stroke-width="0.8"/>
<path d="M388.9,202.45 L391.7,203.85 L388.9,205.25 Z" fill="#1d4560"/>
<text transform="translate(369.60,202.00) scale(0.740,1)" font-family='"Liberation Serif", serif' font-size="5.5" font-weight="bold" fill="#1e1e1e" text-anchor="start" stroke="#1e1e1e" stroke-width="0.1">antagonist</text>
<path d="M366.7,207.8 L368.6,207.8 Q369.6,207.8 369.6,208.8 L369.6,222.4 Q369.6,223.4 368.6,223.4 L366.7,223.4" fill="none" stroke="#7a8a90" stroke-width="0.5"/>
<line x1="369.6" y1="215.54999999999998" x2="389.7" y2="215.54999999999998" stroke="#3a6878" stroke-width="0.8"/>
<path d="M388.9,214.14999999999998 L391.7,215.54999999999998 L388.9,216.95 Z" fill="#1d4560"/>
<text transform="translate(372.50,213.30) scale(0.740,1)" font-family='"Liberation Serif", serif' font-size="5.5" font-weight="bold" fill="#1e1e1e" text-anchor="start" stroke="#1e1e1e" stroke-width="0.1">inhibitor</text>
<line x1="366.7" y1="234.35" x2="389.7" y2="234.35" stroke="#3a6878" stroke-width="0.8"/>
<path d="M388.9,232.95 L391.7,234.35 L388.9,235.75 Z" fill="#1d4560"/>
<text transform="translate(369.60,232.20) scale(0.740,1)" font-family='"Liberation Serif", serif' font-size="5.5" font-weight="bold" fill="#1e1e1e" text-anchor="start" stroke="#1e1e1e" stroke-width="0.1">antagonist</text>
<path d="M366.7,243.7 L369.8,243.7 Q370.8,243.7 370.8,244.7 L370.8,303.3 Q370.8,304.3 369.8,304.3 L366.7,304.3" fill="none" stroke="#7a8a90" stroke-width="0.5"/>
<line x1="370.8" y1="273.85" x2="389.7" y2="273.85" stroke="#3a6878" stroke-width="0.8"/>
<path d="M388.9,272.45000000000005 L391.7,273.85 L388.9,275.25 Z" fill="#1d4560"/>
<text transform="translate(373.00,272.70) scale(0.740,1)" font-family='"Liberation Serif", serif' font-size="5.5" font-weight="bold" fill="#1e1e1e" text-anchor="start" stroke="#1e1e1e" stroke-width="0.1">inhibitor</text>
<line x1="366.7" y1="310.35" x2="389.7" y2="310.35" stroke="#3a6878" stroke-width="0.8"/>
<path d="M388.9,308.95000000000005 L391.7,310.35 L388.9,311.75 Z" fill="#1d4560"/>
<text transform="translate(370.40,308.80) scale(0.740,1)" font-family='"Liberation Serif", serif' font-size="5.5" font-weight="bold" fill="#1e1e1e" text-anchor="start" stroke="#1e1e1e" stroke-width="0.1">antagonist</text>
<rect x="324.90000000000003" y="319.5" width="42.39999999999998" height="8.5" fill="#c8d4d8" opacity="0.6"/>
<rect x="324.3" y="318.8" width="42.39999999999998" height="8.5" fill="#fbfdfe" stroke="#8ec4d2" stroke-width="0.6"/>
<path d="M321.8,322.85 L321.8,319.34999999999997 A1.95,1.95 0 0 1 325.7,319.34999999999997 L325.7,322.85 Z" fill="#ffffff" stroke="#9aa0a8" stroke-width="0.4"/>
<path d="M321.8,322.85 L321.8,326.35 A1.95,1.95 0 0 0 325.7,326.35 L325.7,322.85 Z" fill="#1f5ee0" stroke="#1a4cb8" stroke-width="0.4"/>
<text transform="translate(325.90,325.00) scale(0.760,1)" font-family='"Liberation Serif", serif' font-size="5.4" font-weight="bold" fill="#141414" text-anchor="start" stroke="#141414" stroke-width="0.12">LINSITINIB</text>
<line x1="366.7" y1="324.55" x2="389.7" y2="324.55" stroke="#3a6878" stroke-width="0.8"/>
<path d="M388.9,323.15000000000003 L391.7,324.55 L388.9,325.95 Z" fill="#1d4560"/>
<text transform="translate(371.00,322.60) scale(0.740,1)" font-family='"Liberation Serif", serif' font-size="5.5" font-weight="bold" fill="#1e1e1e" text-anchor="start" stroke="#1e1e1e" stroke-width="0.1">inhibitor</text>
<rect x="325.90000000000003" y="334.7" width="42.19999999999999" height="9.399999999999977" fill="#c8d4d8" opacity="0.6"/>
<rect x="325.3" y="334.0" width="42.19999999999999" height="9.399999999999977" fill="#fbfdfe" stroke="#8ec4d2" stroke-width="0.6"/>
<path d="M321.8,338.85 L321.8,335.34999999999997 A1.95,1.95 0 0 1 325.7,335.34999999999997 L325.7,338.85 Z" fill="#ffffff" stroke="#9aa0a8" stroke-width="0.4"/>
<path d="M321.8,338.85 L321.8,342.35 A1.95,1.95 0 0 0 325.7,342.35 L325.7,338.85 Z" fill="#1f5ee0" stroke="#1a4cb8" stroke-width="0.4"/>
<text transform="translate(325.90,340.80) scale(0.760,1)" font-family='"Liberation Serif", serif' font-size="5.4" font-weight="bold" fill="#141414" text-anchor="start" stroke="#141414" stroke-width="0.12">SELINEXOR</text>
<line x1="367.5" y1="340.55" x2="389.7" y2="340.55" stroke="#3a6878" stroke-width="0.8"/>
<path d="M388.9,339.15000000000003 L391.7,340.55 L388.9,341.95 Z" fill="#1d4560"/>
<text transform="translate(371.00,338.40) scale(0.740,1)" font-family='"Liberation Serif", serif' font-size="5.5" font-weight="bold" fill="#1e1e1e" text-anchor="start" stroke="#1e1e1e" stroke-width="0.1">inhibitor</text>
<rect x="325.90000000000003" y="348.2" width="42.19999999999999" height="34.89999999999998" fill="#c8d4d8" opacity="0.6"/>
<rect x="325.3" y="347.5" width="42.19999999999999" height="34.89999999999998" fill="#fbfdfe" stroke="#8ec4d2" stroke-width="0.6"/>
<line x1="325.3" y1="358.4" x2="367.5" y2="358.4" stroke="#8ec4d2" stroke-width="0.6"/>
<line x1="325.3" y1="368.5" x2="367.5" y2="368.5" stroke="#8ec4d2" stroke-width="0.6"/>
<path d="M321.8,366.0 L321.8,362.45 A1.95,1.95 0 0 1 325.7,362.45 L325.7,366.0 Z" fill="#ffffff" stroke="#9aa0a8" stroke-width="0.4"/>
<path d="M321.8,366.0 L321.8,369.55 A1.95,1.95 0 0 0 325.7,369.55 L325.7,366.0 Z" fill="#1f5ee0" stroke="#1a4cb8" stroke-width="0.4"/>
<text transform="translate(325.90,355.10) scale(0.760,1)" font-family='"Liberation Serif", serif' font-size="5.4" font-weight="bold" fill="#141414" text-anchor="start" stroke="#141414" stroke-width="0.12">METFORMIN</text>
<text transform="translate(325.90,365.50) scale(0.760,1)" font-family='"Liberation Serif", serif' font-size="5.4" font-weight="bold" fill="#141414" text-anchor="start" stroke="#141414" stroke-width="0.12">ME-344</text>
<text transform="translate(325.90,374.70) scale(0.760,1)" font-family='"Liberation Serif", serif' font-size="5.4" font-weight="bold" fill="#141414" text-anchor="start" stroke="#141414" stroke-width="0.12">METFORMIN</text>
<text transform="translate(325.90,381.30) scale(0.760,1)" font-family='"Liberation Serif", serif' font-size="5.4" font-weight="bold" fill="#141414" text-anchor="start" stroke="#141414" stroke-width="0.12">HYDROCHLORIDE</text>
<line x1="367.5" y1="367.95000000000005" x2="389.7" y2="367.95000000000005" stroke="#3a6878" stroke-width="0.8"/>
<path d="M388.9,366.55000000000007 L391.7,367.95000000000005 L388.9,369.35 Z" fill="#1d4560"/>
<text transform="translate(370.40,366.70) scale(0.740,1)" font-family='"Liberation Serif", serif' font-size="5.5" font-weight="bold" fill="#1e1e1e" text-anchor="start" stroke="#1e1e1e" stroke-width="0.1">inhibitor</text>
<rect x="324.90000000000003" y="388.59999999999997" width="42.39999999999998" height="8.300000000000011" fill="#c8d4d8" opacity="0.6"/>
<rect x="324.3" y="387.9" width="42.39999999999998" height="8.300000000000011" fill="#fbfdfe" stroke="#8ec4d2" stroke-width="0.6"/>
<path d="M321.8,391.15 L321.8,387.25 A1.95,1.95 0 0 1 325.7,387.25 L325.7,391.15 Z" fill="#ffffff" stroke="#9aa0a8" stroke-width="0.4"/>
<path d="M321.8,391.15 L321.8,395.05 A1.95,1.95 0 0 0 325.7,395.05 L325.7,391.15 Z" fill="#1f5ee0" stroke="#1a4cb8" stroke-width="0.4"/>
<text transform="translate(325.90,394.10) scale(0.760,1)" font-family='"Liberation Serif", serif' font-size="5.4" font-weight="bold" fill="#141414" text-anchor="start" stroke="#141414" stroke-width="0.12">L19TNFA</text>
<line x1="366.7" y1="390.95000000000005" x2="389.7" y2="390.95000000000005" stroke="#3a6878" stroke-width="0.8"/>
<path d="M388.9,389.55000000000007 L391.7,390.95000000000005 L388.9,392.35 Z" fill="#1d4560"/>
<text transform="translate(366.90,389.10) scale(0.740,1)" font-family='"Liberation Serif", serif' font-size="5.5" font-weight="bold" fill="#1e1e1e" text-anchor="start" stroke="#1e1e1e" stroke-width="0.1">binding agent</text>
<rect x="324.40000000000003" y="401.2" width="42.89999999999998" height="29.80000000000001" fill="#c8d4d8" opacity="0.6"/>
<rect x="323.8" y="400.5" width="42.89999999999998" height="29.80000000000001" fill="#fbfdfe" stroke="#8ec4d2" stroke-width="0.6"/>
<path d="M321.8,417.15 L321.8,413.65 A1.95,1.95 0 0 1 325.7,413.65 L325.7,417.15 Z" fill="#ffffff" stroke="#9aa0a8" stroke-width="0.4"/>
<path d="M321.8,417.15 L321.8,420.65000000000003 A1.95,1.95 0 0 0 325.7,420.65000000000003 L325.7,417.15 Z" fill="#1f5ee0" stroke="#1a4cb8" stroke-width="0.4"/>
<text transform="translate(325.90,417.90) scale(0.760,1)" font-family='"Liberation Serif", serif' font-size="5.4" font-weight="bold" fill="#141414" text-anchor="start" stroke="#141414" stroke-width="0.12">SELINEXOR</text>
<line x1="366.7" y1="420.85" x2="389.7" y2="420.85" stroke="#3a6878" stroke-width="0.8"/>
<path d="M388.9,419.45000000000005 L391.7,420.85 L388.9,422.25 Z" fill="#1d4560"/>
<text transform="translate(371.00,419.20) scale(0.740,1)" font-family='"Liberation Serif", serif' font-size="5.5" font-weight="bold" fill="#1e1e1e" text-anchor="start" stroke="#1e1e1e" stroke-width="0.1">inhibitor</text>
<rect x="324.90000000000003" y="440.09999999999997" width="42.39999999999998" height="9.100000000000023" fill="#c8d4d8" opacity="0.6"/>
<rect x="324.3" y="439.4" width="42.39999999999998" height="9.100000000000023" fill="#fbfdfe" stroke="#8ec4d2" stroke-width="0.6"/>
<path d="M321.8,442.65 L321.8,439.15 A1.95,1.95 0 0 1 325.7,439.15 L325.7,442.65 Z" fill="#ffffff" stroke="#9aa0a8" stroke-width="0.4"/>
<path d="M321.8,442.65 L321.8,446.15000000000003 A1.95,1.95 0 0 0 325.7,446.15000000000003 L325.7,442.65 Z" fill="#1f5ee0" stroke="#1a4cb8" stroke-width="0.4"/>
<text transform="translate(325.90,446.00) scale(0.760,1)" font-family='"Liberation Serif", serif' font-size="5.4" font-weight="bold" fill="#141414" text-anchor="start" stroke="#141414" stroke-width="0.12">MK-2206</text>
<line x1="366.7" y1="444.55" x2="389.7" y2="444.55" stroke="#3a6878" stroke-width="0.8"/>
<path d="M388.9,443.15000000000003 L391.7,444.55 L388.9,445.95 Z" fill="#1d4560"/>
<text transform="translate(371.00,443.00) scale(0.740,1)" font-family='"Liberation Serif", serif' font-size="5.5" font-weight="bold" fill="#1e1e1e" text-anchor="start" stroke="#1e1e1e" stroke-width="0.1">inhibitor</text>
<rect x="325.6" y="452.4" width="42.5" height="23.5" fill="#c8d4d8" opacity="0.6"/>
<rect x="325.0" y="451.7" width="42.5" height="23.5" fill="#fbfdfe" stroke="#8ec4d2" stroke-width="0.6"/>
<line x1="325.0" y1="459.4" x2="367.5" y2="459.4" stroke="#8ec4d2" stroke-width="0.6"/>
<line x1="325.0" y1="467.3" x2="367.5" y2="467.3" stroke="#8ec4d2" stroke-width="0.6"/>
<path d="M321.8,461.85 L321.8,457.95 A1.95,1.95 0 0 1 325.7,457.95 L325.7,461.85 Z" fill="#ffffff" stroke="#9aa0a8" stroke-width="0.4"/>
<path d="M321.8,461.85 L321.8,465.75 A1.95,1.95 0 0 0 325.7,465.75 L325.7,461.85 Z" fill="#1f5ee0" stroke="#1a4cb8" stroke-width="0.4"/>
<text transform="translate(325.90,457.20) scale(0.760,1)" font-family='"Liberation Serif", serif' font-size="5.4" font-weight="bold" fill="#141414" text-anchor="start" stroke="#141414" stroke-width="0.12">SIMVASTATIN</text>
<text transform="translate(325.90,465.20) scale(0.760,1)" font-family='"Liberation Serif", serif' font-size="5.4" font-weight="bold" fill="#141414" text-anchor="start" stroke="#141414" stroke-width="0.12">ROSUVASTATIN</text>
<text transform="translate(325.90,473.20) scale(0.760,1)" font-family='"Liberation Serif", serif' font-size="5.4" font-weight="bold" fill="#141414" text-anchor="start" stroke="#141414" stroke-width="0.12">ATORVASTATIN</text>
<line x1="367.5" y1="462.25" x2="389.7" y2="462.25" stroke="#3a6878" stroke-width="0.8"/>
<path d="M388.9,460.85 L391.7,462.25 L388.9,463.65 Z" fill="#1d4560"/>
<text transform="translate(370.60,460.00) scale(0.740,1)" font-family='"Liberation Serif", serif' font-size="5.5" font-weight="bold" fill="#1e1e1e" text-anchor="start" stroke="#1e1e1e" stroke-width="0.1">inhibitor</text>
<rect x="324.90000000000003" y="478.09999999999997" width="42.39999999999998" height="8.0" fill="#c8d4d8" opacity="0.6"/>
<rect x="324.3" y="477.4" width="42.39999999999998" height="8.0" fill="#fbfdfe" stroke="#8ec4d2" stroke-width="0.6"/>
<path d="M321.8,481.0 L321.8,477.84999999999997 A1.95,1.95 0 0 1 325.7,477.84999999999997 L325.7,481.0 Z" fill="#ffffff" stroke="#9aa0a8" stroke-width="0.4"/>
<path d="M321.8,481.0 L321.8,484.15000000000003 A1.95,1.95 0 0 0 325.7,484.15000000000003 L325.7,481.0 Z" fill="#1f5ee0" stroke="#1a4cb8" stroke-width="0.4"/>
<text transform="translate(325.90,483.50) scale(0.760,1)" font-family='"Liberation Serif", serif' font-size="5.4" font-weight="bold" fill="#141414" text-anchor="start" stroke="#141414" stroke-width="0.12">GEVOKIZUMAB</text>
<line x1="366.7" y1="481.15000000000003" x2="389.7" y2="481.15000000000003" stroke="#3a6878" stroke-width="0.8"/>
<path d="M388.9,479.75000000000006 L391.7,481.15000000000003 L388.9,482.55 Z" fill="#1d4560"/>
<text transform="translate(369.40,479.40) scale(0.740,1)" font-family='"Liberation Serif", serif' font-size="5.5" font-weight="bold" fill="#1e1e1e" text-anchor="start" stroke="#1e1e1e" stroke-width="0.1">modulator</text>
<rect x="325.6" y="488.7" width="42.5" height="22.100000000000023" fill="#c8d4d8" opacity="0.6"/>
<rect x="325.0" y="488.0" width="42.5" height="22.100000000000023" fill="#fbfdfe" stroke="#8ec4d2" stroke-width="0.6"/>
<line x1="325.0" y1="495.8" x2="367.5" y2="495.8" stroke="#8ec4d2" stroke-width="0.6"/>
<line x1="325.0" y1="502.8" x2="367.5" y2="502.8" stroke="#8ec4d2" stroke-width="0.6"/>
<path d="M321.8,498.8 L321.8,496.05 A1.95,1.95 0 0 1 325.7,496.05 L325.7,498.8 Z" fill="#ffffff" stroke="#9aa0a8" stroke-width="0.4"/>
<path d="M321.8,498.8 L321.8,501.55 A1.95,1.95 0 0 0 325.7,501.55 L325.7,498.8 Z" fill="#1f5ee0" stroke="#1a4cb8" stroke-width="0.4"/>
<text transform="translate(325.90,493.70) scale(0.760,1)" font-family='"Liberation Serif", serif' font-size="5.4" font-weight="bold" fill="#141414" text-anchor="start" stroke="#141414" stroke-width="0.12">DS-7423</text>
<text transform="translate(325.90,501.00) scale(0.760,1)" font-family='"Liberation Serif", serif' font-size="5.4" font-weight="bold" fill="#141414" text-anchor="start" stroke="#141414" stroke-width="0.12">GEDATOLISIB</text>
<text transform="translate(325.90,508.30) scale(0.760,1)" font-family='"Liberation Serif", serif' font-size="5.4" font-weight="bold" fill="#141414" text-anchor="start" stroke="#141414" stroke-width="0.12">VOXTALISIB</text>
<line x1="367.5" y1="500.75" x2="389.7" y2="500.75" stroke="#3a6878" stroke-width="0.8"/>
<path d="M388.9,499.35 L391.7,500.75 L388.9,502.15 Z" fill="#1d4560"/>
<text transform="translate(369.80,498.40) scale(0.740,1)" font-family='"Liberation Serif", serif' font-size="5.5" font-weight="bold" fill="#1e1e1e" text-anchor="start" stroke="#1e1e1e" stroke-width="0.1">inhibitor</text>
<rect x="325.6" y="514.4000000000001" width="42.5" height="9.5" fill="#c8d4d8" opacity="0.6"/>
<rect x="325.0" y="513.7" width="42.5" height="9.5" fill="#fbfdfe" stroke="#8ec4d2" stroke-width="0.6"/>
<path d="M321.8,517.0 L321.8,513.45 A1.95,1.95 0 0 1 325.7,513.45 L325.7,517.0 Z" fill="#ffffff" stroke="#9aa0a8" stroke-width="0.4"/>
<path d="M321.8,517.0 L321.8,520.55 A1.95,1.95 0 0 0 325.7,520.55 L325.7,517.0 Z" fill="#1f5ee0" stroke="#1a4cb8" stroke-width="0.4"/>
<text transform="translate(325.90,520.30) scale(0.760,1)" font-family='"Liberation Serif", serif' font-size="5.4" font-weight="bold" fill="#141414" text-anchor="start" stroke="#141414" stroke-width="0.12">GEVOKIZUMAB</text>
<line x1="367.5" y1="518.35" x2="389.7" y2="518.35" stroke="#3a6878" stroke-width="0.8"/>
<path d="M388.9,516.95 L391.7,518.35 L388.9,519.75 Z" fill="#1d4560"/>
<text transform="translate(371.40,516.20) scale(0.740,1)" font-family='"Liberation Serif", serif' font-size="5.5" font-weight="bold" fill="#1e1e1e" text-anchor="start" stroke="#1e1e1e" stroke-width="0.1">agonist</text>
<rect x="325.6" y="530.2" width="43.10000000000002" height="14.200000000000045" fill="#c8d4d8" opacity="0.6"/>
<rect x="325.0" y="529.5" width="43.10000000000002" height="14.200000000000045" fill="#fbfdfe" stroke="#8ec4d2" stroke-width="0.6"/>
<line x1="325.0" y1="537.3" x2="368.1" y2="537.3" stroke="#8ec4d2" stroke-width="0.6"/>
<path d="M321.8,536.3 L321.8,533.1500000000001 A1.95,1.95 0 0 1 325.7,533.1500000000001 L325.7,536.3 Z" fill="#ffffff" stroke="#9aa0a8" stroke-width="0.4"/>
<path d="M321.8,536.3 L321.8,539.4499999999999 A1.95,1.95 0 0 0 325.7,539.4499999999999 L325.7,536.3 Z" fill="#1f5ee0" stroke="#1a4cb8" stroke-width="0.4"/>
<text transform="translate(325.90,535.60) scale(0.760,1)" font-family='"Liberation Serif", serif' font-size="5.4" font-weight="bold" fill="#141414" text-anchor="start" stroke="#141414" stroke-width="0.12">EFATUTAZONE</text>
<text transform="translate(325.90,542.40) scale(0.760,1)" font-family='"Liberation Serif", serif' font-size="5.4" font-weight="bold" fill="#141414" text-anchor="start" stroke="#141414" stroke-width="0.12">MESALAMINE</text>
<line x1="368.1" y1="536.75" x2="389.7" y2="536.75" stroke="#3a6878" stroke-width="0.8"/>
<path d="M388.9,535.35 L391.7,536.75 L388.9,538.15 Z" fill="#1d4560"/>
<text transform="translate(371.40,534.10) scale(0.740,1)" font-family='"Liberation Serif", serif' font-size="5.5" font-weight="bold" fill="#1e1e1e" text-anchor="start" stroke="#1e1e1e" stroke-width="0.1">agonist</text>
<line x1="478.5" y1="461.5" x2="490.8" y2="461.5" stroke="#3ad07a" stroke-width="1.0"/>
<line x1="478.5" y1="469.3" x2="490.8" y2="469.3" stroke="#f07070" stroke-width="1.0"/>
<line x1="478.5" y1="476.5" x2="490.8" y2="476.5" stroke="#4a3ad8" stroke-width="1.0"/>
<line x1="478.5" y1="490.0" x2="490.8" y2="490.0" stroke="#40c4e0" stroke-width="1.0"/>
<line x1="478.5" y1="497.0" x2="490.8" y2="497.0" stroke="#ee50e0" stroke-width="1.0"/>
<line x1="478.5" y1="516.0" x2="490.8" y2="516.0" stroke="#c8dc30" stroke-width="1.0"/>
<line x1="478.5" y1="523.8" x2="490.8" y2="523.8" stroke="#bab4f4" stroke-width="1.0"/>
<line x1="478.5" y1="530.7" x2="490.8" y2="530.7" stroke="#555" stroke-width="1.0"/>
<text transform="translate(494.60,456.20) scale(0.787,1)" font-family='"Liberation Serif", serif' font-size="6.6" font-weight="bold" fill="#141414" text-anchor="start">Predicted Interactions</text>
<text transform="translate(494.60,463.20) scale(0.780,1)" font-family='"Liberation Serif", serif' font-size="6.0" font-weight="normal" fill="#333" text-anchor="start">gene neighborhood</text>
<text transform="translate(494.60,470.90) scale(0.769,1)" font-family='"Liberation Serif", serif' font-size="6.0" font-weight="normal" fill="#333" text-anchor="start">gene fusions</text>
<text transform="translate(494.60,478.20) scale(0.776,1)" font-family='"Liberation Serif", serif' font-size="6.0" font-weight="normal" fill="#333" text-anchor="start">gene co-occurrence</text>
<text transform="translate(494.60,491.00) scale(0.777,1)" font-family='"Liberation Serif", serif' font-size="6.0" font-weight="normal" fill="#333" text-anchor="start">Known Interventions</text>
<text transform="translate(494.60,498.70) scale(0.781,1)" font-family='"Liberation Serif", serif' font-size="6.0" font-weight="normal" fill="#333" text-anchor="start">form curated databases</text>
<text transform="translate(494.60,505.50) scale(0.783,1)" font-family='"Liberation Serif", serif' font-size="6.0" font-weight="normal" fill="#333" text-anchor="start">experimentally determined</text>
<text transform="translate(494.60,518.00) scale(0.794,1)" font-family='"Liberation Serif", serif' font-size="6.0" font-weight="normal" fill="#333" text-anchor="start">Others</text>
<text transform="translate(494.60,525.50) scale(0.781,1)" font-family='"Liberation Serif", serif' font-size="6.0" font-weight="normal" fill="#333" text-anchor="start">textmining</text>
<text transform="translate(494.60,532.40) scale(0.780,1)" font-family='"Liberation Serif", serif' font-size="6.0" font-weight="normal" fill="#333" text-anchor="start">co-expression</text>
<text transform="translate(494.60,539.70) scale(0.771,1)" font-family='"Liberation Serif", serif' font-size="6.0" font-weight="normal" fill="#333" text-anchor="start">protein homology</text>
</svg></body></html>
